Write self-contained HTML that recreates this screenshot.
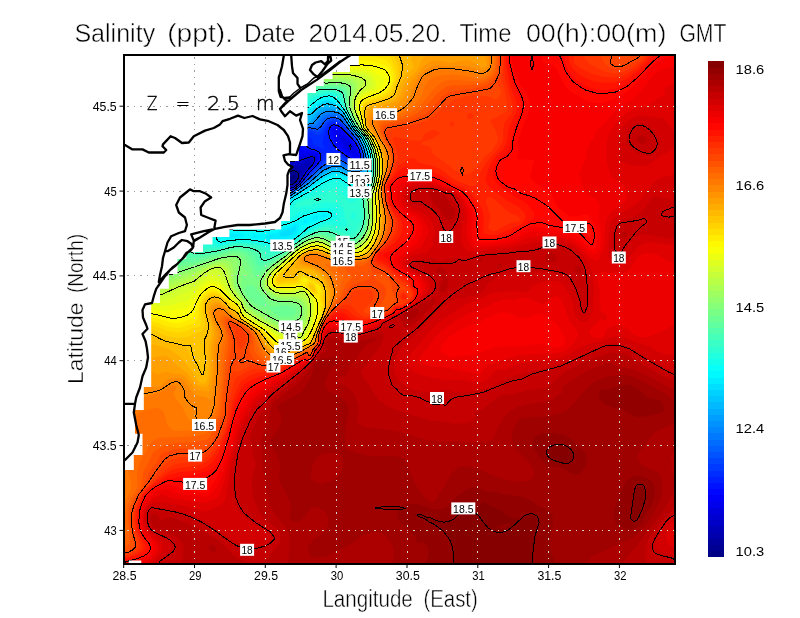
<!DOCTYPE html>
<html><head><meta charset="utf-8"><title>Salinity</title>
<style>html,body{margin:0;padding:0;background:#fff}svg{display:block}text{font-family:"Liberation Sans",sans-serif;fill:#000}</style></head><body>
<svg width="800" height="618" viewBox="0 0 800 618">
<rect width="800" height="618" fill="#fff"/>
<defs><clipPath id="ax"><rect x="124" y="55" width="551" height="509"/></clipPath></defs>
<g clip-path="url(#ax)" shape-rendering="geometricPrecision">
<rect x="124" y="55" width="551" height="509" fill="#000080"/>
<path fill="#000093" d="M120 51l559 0 0 517-559 0 0-516zM293 174.8l-3.9 2.2-1 2 0.9 2.3 2 0.9 2.4-1.2 2.2-3 0.2-2-0.8-1.1-1-0.2z"/>
<path fill="#00009f" d="M120 51l559 0 0 517-559 0 0-516zM291 170.9l-3.1 1.1-2.4 2-1.1 2-0.5 3 0.7 2 1.8 2 2.6 1.5 2 0.1 3-1.3 2.6-2.3 1.4-2.1 1.1-3.9-0.8-2-2.3-1.9-4-0.4z"/>
<path fill="#0000ac" d="M120 51l559 0 0 517-559 0 0-516zM289 168.9l-3.7 1.1-2.3 1.4-2 2.6-0.2 2 0.5 4 1.3 2 3.9 3 3.5 0.9 3.1-0.9 4-3 2.9-4.8 0.8-3.2-0.8-2-3.9-3-2.1-0.4-4 0.2z"/>
<path fill="#0000b9" d="M120 51l559 0 0 517-559 0 0-516zM288 167l-5 0.5-3 1.3-2.4 2.2-0.8 3 3.2 8 5 3.5 4 1.2 4-0.9 4.1-2.8 2.9-4 2.4-6-0.4-2.1-5-3.5-3-0.5-5 0.1z"/>
<path fill="#0000c6" d="M120 51l559 0 0 517-559 0 0-516zM309 161l-9 4.5-11-0.4-10-1.3-3 1.1-3 2.6-1.4 2.5 0.1 2 5.7 10 6 4 4.6 1.4 3-0.2 2.9-1.2 4.9-4 6.4-12 5.2-6 0.5-2-1-1z"/>
<path fill="#0000d2" d="M120 51l559 0 0 517-559 0 0-516zM269 156.6l-2.7 2.4-0.4 4-1.9 3.1 0.1 1.9 11.9 15.3 8 4.1 3 0.7 3-0.1 5-2.1 4.4-3.9 6.7-11 6.1-7 1.2-3-0.3-2-1.1-0.6-3 0.1-10 4.3-8 0.5-3-0.7-11-5.3-7-1z"/>
<path fill="#0000df" d="M120 51l559 0 0 517-559 0 0-516zM256 152l-1.6 1-0.5 2-2.2 4 1 2 7.5 9 9.8 9.4 4 4.8 8.7 3.8 6.3 0.7 6-2.3 4.9-4.4 6.5-10 7.6-9 1.3-4-0.7-2-1.6-0.8-3 0.2-11 3.6-7 0.6-2-0.5-11-5.6-7-2.4-7-1-8 0.8zM350 145.9l-0.8 1.1 0.8 1 1.1 0 0-1-1-1z"/>
<path fill="#0000ec" d="M120 51l559 0 0 517-559 0 0-516zM227 144.9l-0.7 0.1 0.3 1 1.8 2 12.6 10 6.6 7 9.8 7 9.6 7.8 3.9 5.2 7.7 3 7.4 1.4 3-0.1 4-1.4 3.3-1.9 3.3-3 7.6-11 7.8-9 1.4-3 0.3-2-0.7-1.9-1-1-4-0.5-13 2.4-5 0-4-1.2-10-4.4-8-1.9-15-0.2-28-4.4zM339 133.9l0 1.8 7.1 12.3 3.9 3.6 4 1.6 1.2-0.2 0.4-2-2.2-5-2.4-2.5-8.6-6.5-2.4-3z"/>
<path fill="#0000f9" d="M120 51l559 0 0 517-559 0 0-516zM223 142.4l-0.1 1.6 1.1 1.7 6.7 8.3 5.4 8 3.9 3.1 8.7 4.9 15.3 10.4 1.6 1.6 1.2 3 0.9 1 11.3 3.4 6 0.7 4-0.2 5-2 5-3.7 9-12.2 6.6-7 2-3 1.2-3-0.4-3-1.4-1.8-3-1-18-0.3-15-3.6-11-1.5-14-0.3-20-2.9-11-2.4zM336 129.7l-1 0.4-0.5 0.9 0.5 4 6.9 11 7.1 7.2 3.2 1.8 3.8 1.2 1.2-0.2 0.8-1 0-2-1-3.1-2.8-4.9-12.9-13-4.3-2.2z"/>
<path fill="#0006ff" d="M120 51l559 0 0 517-559 0 0-516zM222 141.1l-0.8 0.9 0.8 2.2 11 16 3 3.6 7.8 7.2 17.3 11 1 1 2.1 4 3.8 1.5 6.8 1.5 12.2 0.7 5-1.4 6.6-4.3 10.4-13.2 6.5-6.8 3.3-6-0.1-3-1.7-2.7-3-1.3-16-2.9-29-2.5-13-0.2-21-2.8-12-2.6zM334 127.5l-1 0.7-0.9 1.8 0.1 4 2.3 5 4.7 7 9.6 9 6.2 2.8 3 0.2 1-0.9 0.3-1.1-0.1-3-1.2-3.3-3-5.4-13-13.5-4-2.6-3-0.9z"/>
<path fill="#0013ff" d="M120 51l559 0 0 517-559 0 0-516zM221 140.3l-0.8 0.7 0 1 0.9 2 12.9 18.8 8 8.9 15 12.3 2.5 4 3.5 1.5 9 1.6 8 0.5 7-0.3 6-2.1 6.1-4.2 10.5-13 7.6-8 2-3 1-3-0.4-3-1.8-2.7-2-1.2-6-1.2-5-2.6-3-0.7-16 0.2-17-1.5-8 0.5-19-1.9-20-3.7zM333 125.9l-1.5 1.1-1.2 2-0.5 4 1.5 5 4.2 7 3.7 4 8.8 7.2 6 2.7 4 0.7 2-1.6 0.2-4-1.2-4-3.2-6-4.8-5.7-9-9.1-5-3.1-3-0.4z"/>
<path fill="#0020ff" d="M120 51l559 0 0 517-559 0 0-516zM220 139.6l-0.8 1.4 0.7 2 12.6 19 8.5 10.2 16.3 16.8 3.7 2.2 6 1.2 11 0.2 10-0.9 6-2.6 5.6-4.1 10.9-13 8.6-9 2-3 0.7-3-0.4-3-2.4-3-3-1.7-5-1.1-5-3.7-4-1.2-8 0.7-5-0.5-4 0.4-5-1.6-11-1.6-6-0.3-2.3 0.6 0.7 1 2.1 1 0.2 1-6.7 0.3-15-1.2-21-3.7zM332 124.5l-1.9 1.5-1.3 2-1.1 3-0.3 3 1.9 7 3.7 5.8 3.3 3.2 11.7 7.9 7 2.7 4 0 1-0.7 1-1.9-0.1-4-1.9-5.6-4-6.9-13-13.8-5-3.1-4-0.4z"/>
<path fill="#002dff" d="M120 51l559 0 0 517-559 0 0-516zM332 122.8l-2 0.9-2 2.1-2.8 6.2-2.7 10 0.5 3 2 4-1 0.3-6-3.2-4-1.2-0.8-0.9-0.9-4-1.6-2-1.7-0.8-15 2.6-10 0.3-36-2.1-1.5 1 3.1 3-5.6 0.3-8-0.9-15-2.8-1.9 0.4-0.8 1 1.4 4 13.3 19.8 8 9.7 15.7 16.5 5.3 3.2 4 1 10-0.3 11-1.4 3-0.9 4-2.1 7.1-5.5 10.3-12 10.8-11 4.8-9.8 5 2.3 5 0.2 3 0.9 9 5.4 5 1.8 4 0.4 2-0.9 1-1.2 0.8-3.1-0.8-5-3-7-3-4.8-14-14.9-4-2.2-4-0.5z"/>
<path fill="#0039ff" d="M120 51l559 0 0 517-559 0 0-516zM334 121l-3 0.4-3 1.8-2 2.5-4 7.3-3 2.2-3-0.4-4-2.9-2-0.4-8 4.2-11 2.3-8 0.5-9-0.3-15-0.8-12-1.4-9.2 1-0.9 1 1.7 2-0.6 0.1-17-2.3-3 0.8-0.5 2.4 2.1 4 11.2 17 9.2 11.7 14.9 16.3 7.1 4.6 5 1.2 8-0.6 11-1.9 4-1.1 4-2.3 6.6-4.9 12.9-14 12.5-11.5 3-1.9 6-1.3 4 0 3 1.1 8 4.6 5 1.4 4-0.3 2-1.5 1.4-3.6-0.6-5-1.8-5.1-4-7.5-14-15.8-4-2.7-3.9-0.9z"/>
<path fill="#0046ff" d="M120 51l559 0 0 517-559 0 0-516zM331 119.8l-4.1 2.2-5.9 8.5-3 1.7-8-2.9-2 0.5-4 2.8-3 1.3-12 2.7-7 0.3-13-0.5-29-2.8-6 2.2-4 0.1-4 1.2-6-0.3-2 0.5-1 0.8-0.7 1.9 1.1 3 10.1 16 8 11 15 18 5.2 4 7.3 4.2 5 1 6-0.5 14-3.3 7-3.7 6.1-4.7 12.9-13.2 7-6.1 6-4.4 4-1.9 5-1.2 4 0.1 3 1.1 6 3.7 5 1.6 4-0.2 3-1.5 1.8-4-0.3-5-2.3-7-4.2-7.8-15-16.9-4-2.2-5-0.5z"/>
<path fill="#0053ff" d="M120 51l559 0 0 517-559 0 0-516zM329 118.8l-4 2.8-4 6-2 1.8-3 0.3-7-1.7-8 4.1-11 2.6-7 0.5-12-0.8-36-4.7-2 0.3-3 2.8-4 1.8-8 1-2.2 2.4-0.9 2 0.3 2 5.1 10 13.2 18 9.4 11 3.3 5 4 4 3.8 2.7 7 3.7 6 1.9 7-0.4 14-3.9 4-1.9 7-4.8 21-19.5 4-3 6-3.2 5-1.6 5-0.2 3 1 6 3.7 6 1.5 5-1 2.1-2 1.4-5-0.7-5-2.5-7-4.3-7.8-15-17.3-5-2.5-3-0.3-3 0.4z"/>
<path fill="#0060ff" d="M120 51l559 0 0 517-559 0 0-516zM331 116.9l-3 0.7-3 1.9-2 2-3 4.7-2.4 1.8-2.6 0.3-6-1.3-9 3.8-14 2-16-1.2-32-5.2-16 0.9-4 1.7-0.4 1 1.3 2-2.9 1.1-0.9 3.9-1.1 1.4-4 1.6-0.3 1 0.7 2 6.9 10 23.3 28 4.3 6 4.4 4 5.9 4 8.8 3.7 7 0.8 6-1.3 11-3.7 4-1.9 7-4.9 9.4-7.7 12.6-11.9 4-2.7 6-2.9 4-1.1 5-0.2 3 1 6 3.7 5 1.2 5-0.6 3-1.8 1.8-4.7-0.1-5-2-7-4.5-9-16.2-19.4-4-2.2-5-0.6z"/>
<path fill="#006cff" d="M120 51l559 0 0 517-559 0 0-516zM329 115.9l-3 1-2.9 2.1-4.1 6-2 1.7-2 0.5-7-0.8-8 2.9-6 0.7-15-0.1-19-2.8-15-3.1-10-1-14-2.4-13-1-2.2 0.4-0.4 1 0.3 1 7.9 10 0.7 3-0.3 1.7-1 0.9-2 0.2-6-0.7-1.8 0.9 4.8 8 30.2 35 2.4 4 6.9 6 6.5 4.7 7 3.2 7 1.7 5-0.2 5-1.4 14-5.9 17-12.8 13-12 9-4.6 5-1.3 4 0.1 3 1.1 5.7 3.4 6.3 1.2 5-0.9 2.9-2.3 1.6-6-0.5-5-2.2-7-4.6-9-7.9-9-5.3-7.4-3-3.3-5-2.4-6-0.2z"/>
<path fill="#0079ff" d="M120 51l559 0 0 517-559 0 0-516zM196 111l-0.6 1 0.7 1 14.6 17 2.1 3 0.6 2-0.4 1.2-2 0.7-11-2.1-2.4 0.2 0 1 23.2 30 9.6 11 2.3 4 4.4 4 17.2 12 6.7 3.1 8 1.7 4-0.2 4-1.2 14-6.2 18.2-13.2 12.8-11.8 8-4.1 5-1.4 5 0 8 4.2 7 1.4 4-0.6 4-2.2 1.5-3.5 0.6-5-0.9-5-1.9-6-4.5-9-7.8-9-7-9.9-3-2.7-3-1.4-4-0.7-5 0.3-5 2.4-2.8 3-3.2 4.9-1.7 1.1-7.3-0.3-9 2.4-6 0.4-15-1.5-31-5.9-10-1-40-9z"/>
<path fill="#0086ff" d="M120 51l559 0 0 517-559 0 0-516zM190 106.7l-0.5 0.3 0.1 1 1.3 2 5.1 4.8 13 14.2 3.2 5-0.2 1.6-1 0.4-14-2.7-4-0.1-1.1 0.8 8.4 13 2.2 5 5.8 8 16.1 16 13.4 11 15.2 10.2 5.2 2.8 6.8 2.3 7 0.5 6-1.6 14-7.1 17-12.2 13-11.7 7-3.7 5-1.6 5-0.1 3 0.9 6 3.4 8 1.3 4-0.9 3.8-2.5 1.2-3 0.6-6-0.9-5-1.9-6-4.5-9-7.7-9-7.6-11.1-3-2.7-3-1.4-5-0.8-5 0.4-3 1-2.3 1.6-6.1 8-1.6 1-6 0.1-15 2.1-24-4.7-15-3.9-16-2.1-30-7.5-11.5-2-5.5-0.4z"/>
<path fill="#0093ff" d="M120 51l559 0 0 517-559 0 0-516zM187 104.1l-0.4 0.9 0.3 1 2.1 3 7 6.8 12.2 13.2 2.6 4 0.2 1.6-1 0.6-2-0.2-15-3.3-16-5.9-12.5-2.8-0.6 1 0.1 1 4.5 9 6.4 9 6.1 6 20 11.5 18 12.9 16.1 12.6 17.9 12 9 4.5 5 1.2 5 0.2 6-1.6 14-7.6 17.9-12.7 12.1-10.9 7-3.7 5-1.4 5-0.1 3 1 6 3.3 8 1.2 4-0.7 4-2.4 1.5-3.3 0.6-6-0.6-5-2.2-7-4.4-9-7.8-9-8.1-12.3-3-2.6-4-1.8-5-0.6-5 0.3-2.7 1-2.3 1.5-7.1 8.5-1.7 1-20.2 1.7-6-1.3-11-3.4-23-5.5-28-4.8-15-3.9-21-2.8z"/>
<path fill="#009fff" d="M120 51l559 0 0 517-559 0 0-516zM182 98.7l-0.6 0.3 0.6 2 6 7.8 7.5 7.2 12.8 14 1.6 3-0.3 1-0.6 0.2-15-3-18.4-7.2-13.6-4-5-0.2-27-14.8-1-0.4-0.5 0.4 1.5 2 9.6 10 8.4 7 5 3.2 6.9 6.8 12.1 8.1 8.8 7.9 20.2 11.6 42.9 31.4 9.6 6 7.5 4 9 1.9 4-0.2 4-1.2 14-8.3 18-12.5 12.1-10.7 6.9-3.6 5-1.4 4-0.1 3 0.7 7 3.7 9 1.2 4-0.9 3.7-2.6 1.3-3 0.6-7-0.7-5-2.1-7-4.4-9-7.7-9-8.7-13.3-3-2.7-4-1.9-5-0.8-5 0.2-3 0.9-3 2.1-7.2 8.5-1.8 1.3-3 0.6-7-0.6-11 0.8-5-1.2-17-6-34-7-10-1.5-41-9.7z"/>
<path fill="#00acff" d="M120 51l559 0 0 517-559 0 0-467.4 4 1.9 14.1 14.5 22 19 11.9 7.2 8 7 21 12.2 25 17.7 18.4 13.9 14.6 8.9 6 2.1 8 0.9 4-0.8 3-1.5 30-20.2 13-11 7-3.4 4-1 4 0 3 0.8 8 3.8 8 1.1 4-0.8 3-1.7 2-2.4 0.7-2.8 0.5-6-0.6-5-1.6-6-5.1-11-7.7-9-9.2-14.3-4-3.5-5-1.9-7-0.5-5 1.5-4 3.1-6.8 8.6-2 1-2.9 0-5.3-1.4-14 0.5-6-1.8-14-5.5-16-2.8-8.1-2-76.9-23.6-0.3 0.6 1.7 2 11.6 10.7 11 12 9.5 9.3 8.1 9 1.1 2-0.1 1-2.6 0.3-12-2.7-17-6.8-12-3.6-8-2.9-14.8-8.3-10.2-4.4-12-7.8 0-44.8z"/>
<path fill="#00b9ff" d="M120 51l559 0 0 517-559 0 0-466.6 4 2 14 14.3 20.8 18.3 13.2 7.9 8.4 7.1 19.6 11.3 26 18.3 18 13.8 15 9.2 6 2.2 8 1 4-0.6 2.7-1.2 8-6 22.3-14.8 13-10.8 7.2-3.4 3.8-0.9 3-0.1 4 1 6 3 3 0.9 8 0.9 4-0.9 3-2 1.4-1.9 0.9-3 0.4-6-0.4-5-1.5-6-5.4-12-7.7-9-9.7-15.3-5-4.1-5-2-7-0.4-5 2-4 3.2-6.8 8.6-1.2 0.9-1.2 0.1-1.6-1-0.1-1 1.9-1 0.5-1-0.5-0.4-1-0.1-3 1.8-16 0.8-4-0.4-20-7.3-15.7-3.4-9.3-3-60.8-24-26.2-9.9-5-1.3 1 2.2 4.1 4 7.9 6.4 3.9 4.6 9.1 7.1 10 9.4 7 7.8 8.9 8.7 8.5 10 0.2 1-1.6 0.6-11-2.3-18.5-7.3-11.5-3.4-8-3.2-15.1-8.4-9.9-4.2-12-7.8 0-44z"/>
<path fill="#00c6ff" d="M120 51l559 0 0 517-559 0 0-466 2 0.6 2 1.5 13.6 13.9 20.4 18.1 14 8.4 8 6.7 20 11.6 26 18.3 18 13.8 15 9.4 7 2.5 8 0.8 6-1.5 8.8-7.1 22.2-14.8 12-9.6 8-3.8 4-0.7 3 0.2 12 4.7 8 1.1 4-0.6 3-2 2-2.5 0.9-4 0.3-6-0.6-6-1.6-6-5-10.8-7.9-9.2-10.1-16.1-4-3.7-4-2.3-6-1.4-5 0.5-6 3.6-5 5.5-2 1.3-4-0.8-5 1.6-5 0.4-17-0.7-8-2.5-15-6.5-30.5-9.9-18.6-7-48.7-21-16.3-6-7-2-2.2 0 0.6 1 17.3 15 8.4 6.5 4 4.5 8 6 6 5.5 16.6 16.5 11.2 13 0.4 1-1.2 0.5-10-1.8-18-7-12-3.6-8-3.4-14-7.8-11-4.7-10-7-2-0.8 0-43.4z"/>
<path fill="#00d2ff" d="M120 51l559 0 0 517-559 0 0-465.5 4 2.2 13 13.3 21 18.7 14 8.3 7 6 5 3.3 16 9 26 18.3 18 13.8 15 9.5 8 3 7 0.7 4-0.7 3-1.2 8.8-7.7 20.2-13.2 13-10 8-3.8 4-0.8 3 0.3 4 1.1 8 3.6 8 1.4 4-0.4 3-1.9 2.6-3.3 0.8-3 0.3-7-0.5-6-1.1-5-5.1-12-8.4-10-10.6-17-4-3.9-4-2.5-6-1.7-5 0.4-5 2.9-7 6.5-2 0.7-12 1.1-18-0.6-5-0.7-30-12.9-10.8-5.3-22.1-9-27.1-9.3-16.9-6.7-38.1-13-1.2 0-0.1 1 2.3 3 28.7 23 3.6 4 8.7 6.6 11 10.2 11.8 12.2 9 11 0.3 1-1.1 0.3-8-1.3-17-6.5-13-4-7-3-15.8-8.5-9.2-3.8-11-7.6-2-0.7 0-42.9z"/>
<path fill="#00dfff" d="M121.1 51l557.9 0 0 517-559 0 0-465.1 3.7 2.1 13.3 13.6 21 18.6 14 8.3 7 6 4 2.7 17 9.7 14 10.2 11.9 7.9 18.1 13.9 15 9.7 8 3.2 4 0.7 4 0 4-0.8 3-1.3 8.8-8.4 19.2-12.4 13.1-9.6 8.7-4 3.2-0.6 3 0.2 4 1.2 5 2.6 4 1.4 8 1.5 4-0.6 3-2.4 2.1-3.3 0.9-3.4 0.3-6.6-0.4-6-1.3-6-5.1-12-8.5-10.1-11-17.7-5-4.9-4-2.5-6-1.5-5 0.8-6 3.9-6 5.4-2 0.7-9 0.6-21-1-5.8-0.7-27.2-11.8-10-5.3-26.1-11.9-12.9-5-11.1-3-16.9-6.3-14.1-3.7-16.3-6-16.6-7.2zM120 54l0-0.8 1 0.2 2 1.2 6.9 7.4 29.1 23 4 4.3 9 6.9 11 10.2 10.9 11.6 4.1 5 2.1 5-4.1 0.2-5-1.2-14-5.4-12-3.6-8-3.5-14-7.6-10-4.2-11-7.6-2-0.7 0-39.4z"/>
<path fill="#00ecff" d="M148.3 51l530.7 0 0 517-559 0 0-464.6 3.1 1.6 13.9 14.1 20 18 15 8.9 6 5.3 5 3.4 16.4 9.3 14.6 10.7 11.3 7.3 18.7 14.5 16 10.3 8 3.2 7 0.5 7-1.8 3-2.2 4.4-5.5 2.4-2 18.2-11.4 14-9.8 8-3.6 4-0.6 3 0.4 13 5.6 7 1.8 4-0.2 3-2.2 2-3.3 1.3-3.7 0.5-4-0.1-8-0.9-6-2.1-7-3.8-8-8.9-10.7-11-17.9-5-5.2-4-2.8-5-1.7-3 0-3 0.8-6 3.8-6.3 5.7-3.7 1.2-6-0.1-14-1.3-18.2-2.8-5.8-1.9-16.8-7.1-9.2-5-17.1-8-22.9-9.9-32.5-13.1-3.3-2-2.3-3-9.9-6zM270 236l-0.5 1 1.5 0.6 1-0.6-1-1.1zM294 226.9l-3 2.7-8 0.9-2.7 2.5-0.3 2.5 2 1.3 4-0.3 4.4-1.5 2.6-2 2-2.7 1.2-3.3-1.2-0.7zM120 55l0-0.5 1 0.3 3 1.8 5.1 5.4 29.9 23.5 4 4.3 9 6.9 11 10.4 9.6 10.9 1.4 2 0.5 2-0.8 3-0.7 0.8-1.1 0.2-25.9-8.2-9-3.9-14-7.5-10-4.2-10.4-7.2-2.6-1.1 0-37.9z"/>
<path fill="#00f9ff" d="M156.3 51l522.7 0 0 517-559 0 0-464.2 3 1.6 14 14.3 20 18 14.2 8.3 11.8 9.4 16.9 9.6 13.1 9.7 12 7.7 18 14 15 9.9 6 3.3 5 1.7 3 0.5 4-0.1 4-0.9 3-1.3 3-2.3 3.5-5.2 3.5-3 17-10.3 14-9.5 9-3.8 4-0.5 4 1 16.3 8.1 3.7 3.7 2 0.5 2-1.3 1.7-2.9 3.5-14 0.1-9-1-7-2.1-7-3.2-7-2.7-4-7.1-8-11.2-18.4-5-5.6-5-3.7-5-1.4-5 1-6 3.7-7 6.3-4 1.1-17-2.5-28-6.4-15.3-5.1-19.7-9.6-21-8.7-37-19.2-9-5.3-2.4-2.2zM230 234l-1.3 1-0.2 1 0.7 1 1.8 0.7 5-0.8 5 0.1 1-1-0.2-1-0.8-0.5-10-0.8zM254 235l-1.2 1 0.2 1 1.4 1 1.6 0.1 1.7-1.1-0.1-1-2.6-1.2zM296 223.9l-2 0.6-5 2.9-7 1.5-6 4.5-6 0.2-3 1.2-1 1.2 0.1 2 1.9 1.5 3 0.7 13-0.8 6-1.2 2.7-1.2 3.3-2.7 1.5-2.3 1-6-0.5-1.4-1-0.6zM305 219.9l-1.7 1.1-0.3 1 0.8 1 1.2 0.2 2-1 0.6-1.2-1.6-1.2zM315 215.8l-2.2 1.2-0.7 2 1.3 1 1.6 0.1 2.5-1.1 1.3-2-1.2-1-1.6-0.3zM323 214.5l-1.6 1.5 0.6 1 3 0.3 1.5-1.3-0.1-1-2.4-0.9zM120 56l0-0.8 1 0.3 3 1.9 4.5 4.6 30.5 24 3.6 4 9.1 7 11.3 10.9 5.3 8.1-0.6 1-3.9 1-0.8 1 0.2 2-1.2 0.3-6.5-1.3-9.5-2.8-9-3.9-14-7.4-9.3-3.9-10.7-7.3-3-1.3 0-36.4z"/>
<path fill="#06fff9" d="M157.6 51l521.4 0 0 517-559 0 0-463.7 3 1.7 13.6 14 20.4 18.5 13.2 7.5 12.8 10.3 14 7.7 16 11.7 12 7.3 17 13.3 17 11.4 5 2.8 5 2 4 0.8 4-0.2 3-0.6 4-1.8 3-2.6 3.7-6.1 2.2-2 18.1-10.6 13-8.6 10-4.1 4-0.2 3 1 11 6.5 6.9 6 2.1 0.7 2-0.3 3-2.4 2-3.7 2.8-14.3 0-9-1-7-1.8-6.1-3.6-7.9-2.6-4-7.2-8-8.6-14.8-4-5.8-4-4.8-5-4.1-5-1.3-6 1.5-6.7 4.3-6.3 5.8-2 0.7-4.8-0.5-12.3-3-48.9-15.3-28.2-9.7-7.1-3-37.7-19.9-8-4.5-2-1.8zM322 212.8l-8 1.5-5 2.8-5 1.1-5 3.4-4 0.9-6 2.8-7 1.7-7 4.2-7 1-5 1.7-2 0.1-7-1.2-7 2-5-2.2-11-0.8-6 0.5-3 1.2-0.9 2.5 1.2 2 6.7 1.1 12-0.5 6-2.6 1 0.1 2.6 1.9 3.4 1.5 8-0.1 8 2.5 10 0.3 8-1.4 5-1.9 6-4.9 1.3-2 0.3-5 1.4-1.5 4-0.5 5-2.5 5-0.7 5-2.2 6.3-1.6 1.6-2-0.6-2-2.3-1.4-3 0zM120 56l3 1.2 6 5.8 29.4 23 3.6 4 10 7.9 9.1 9.1 1.7 3-0.8 1.6-4.4 2.4-0.5 1 0.6 3-0.7 0.8-5.1-0.8-6.6-2-7.2-3-15.1-7.6-8.1-3.4-11.9-7.9-3-1.1 0-36z"/>
<path fill="#13ffec" d="M158.7 51l520.3 0 0 517-559 0 0-463.1 3 1.9 13 13.5 20 18.5 16.1 9.2 13.9 12.7 9.6 5.3 8.7 7 2.3 3 3.2 9 4.6 8 2.6 6.6 2 2.3 1 0 1-0.7 0.3-2.2-3.3-11.5-2.6-6.5-0.1-1 1.7-0.2 8 4.1 17 13.3 22 14.5 4 1.9 5 1.3 3 0.3 4-0.5 3-1 4-2.8 2-2.9 2.3-5 2.7-2.6 16-8.8 13.5-8.6 9.5-4.1 4-0.7 3 0.7 8.8 6.1 8 7 3.2 0.6 3-0.7 3-2.3 2.6-4.6 1.4-5 1.3-9-0.1-10-1-7-2.1-7-3.2-7-2.7-4-7.2-8-14-23.2-4-4.9-3.4-2.9-2.6-1-3-0.4-5 1-7.7 4.4-7.3 6.2-2 0.5-3-0.5-20-6.3-19.4-6.9-33.6-10-16.3-4-7.2-3-38.5-19.9-7.3-4.1-1.7-1.6zM208 201.6l0 1.4 3.3 6-0.6 4 2 6 0.4 9 1.1 7 2.3 5 2 2 1.5 0.6 9-1.9 18-1.3 27 4.8 5 0.3 4-0.7 9-2.8 17-12.9 12-6.2 8.2-2.9 2.6-2 0.7-2-1.2-2-3.3-1.7-4-0.6-5 0.6-16 4.2-7 4.5-7 3-8 2.1-8 4.1-12 1.4-11-0.9-15 0.3-5-1-2.8-2-10.9-14-3.3-6.4-4-4.7zM120 57l0-0.7 3 1.5 5.4 5.2 29.6 23.3 4 4.3 9.3 7.4 6.7 8-0.3 1-5.7 0.2-4 2.4-4-0.1-1 0.5 1 2.2-1 0.5-3.3-0.7-8.6-3-8.1-4.3-8.8-3.7-11.2-7.6-3-1.1 0-34.3z"/>
<path fill="#20ffdf" d="M160 51l519 0 0 517-559 0 0-462.3 3 2.1 16.6 17.2 7.6 9 24.1 45 0.8 2-1.1-0.1-13-14-2-1.2 0 1.3 14 27 14.3 24 11 13 0.2 1-0.5 0.2-7-0.3-1.1 0.1-0.7 1 2 2 6.2 3 2.6 0.2 3-0.9 2 0 5 2.5 4 1.1 7 3.7 3 0.2 7-2.3 7-1.2 10-0.2 12 1.5 16 3.8 4 0.4 5-0.7 9-3.3 11-7.5 11-6.7 11-5.6 11-3.2 1.8-1.8 0.7-2-0.1-2-0.9-2-2.5-2.2-5-1.5-8-0.2-18 3.1-4.4 1.8-7.6 4.8-3.3 0.2-0.5-1 2.8-4.7 2-7.4 2-2.9 17-8.6 12-7.4 8.9-4 3.1-0.8 3 0.1 3 1.5 10 9.8 3 2.1 3 0.4 5-1.5 4-2.7 3-4.9 1.9-7 1-8-0.2-10-1-7-1.7-6-3.7-8-2.6-4-7.7-8.6-16-27.2-2.7-3.2-2.3-1.6-5-1.3-6 0.8-6 2.8-10 6.9-4 0-24.8-8.6-53.2-15.5-18-6.2-39-18.3-7-3.9-1-1.1zM120 57l3 1.4 5 4.8 13 9.8 9 7.8 8 6 3.7 4.2 8.6 7 1.5 3-0.8 0.8-1 0-8-1.9-5 0.6-11-3.4-0.5 0.9 0.9 2 4.8 6 0.3 1-1.5 0.2-15.9-7.2-11.1-7.5-3-1 0-33.5zM161.7 145l2.3-0.1 6.1 3.1 3.7 3 3.7 4 8.5 19 4.3 13 0.4 3-0.7 0.6-3-0.8-0.6 1.2 4.2 13-0.3 2-1.3-0.8-9-14.2-1.2-11-3-7-13.9-27zM225.5 188l0.5-0.7 2 0.8 18 14.6 6 2.3 12 8.6 10.1 4.4 3.5 2 0.3 1-1.9 1.9-2 1-6 1-4-0.5-5-2.5-4 0.3-7-3.8-9 2.6-1-0.4-1-1.4-2.3-7.2-4.7-10.3-4.3-12.7z"/>
<path fill="#2dffd2" d="M162 51l517 0 0 517-559 0 0-392 1 0.3 1.7 1.7 8.3 11.1 27.4 33.9 4.6 4 6 4.2 19 10.4 5 1.9 5 1.2 20 1.9 3-0.3 8-2.5 7-1.2 12 0.3 9 1.4 15 5 3 0.4 5-1 9-3.6 4-2.3 8-5.7 10-5.8 13-5.7 3-0.7 4-0.1 11 2.1 4.2-0.9 0.8-1 0.2-2-2.6-6-1.3-8-2.3-2.9-3-1.8-5-1.6-7-1-6 1.7-5 0-5 2.5-7 0-6 1.8-1.7-0.7-0.1-2 2.2-2 20.6-8.4 7-1.6 5.8-4 3.2-1.2 2.8 1.2 2.5 3 5.7 4.7 4 4.9 2 1.2 2-0.4 5.7-5.4 6.3-4.1 3-3.7 2-4.2 1-3.6 1.3-9.4 0-10-0.9-7-2-7-2.4-5.5-3.1-5.5-8.9-10.2-4.6-7.8-10.4-20-2-2.8-2-1.6-5-1.7-6 0-6.9 2.1-12.1 6.1-3 0.4-3-0.5-14-5.2-31.2-8.8-47.7-16-13.6-5-9.1-4-15.6-7-6.8-4zM353 212.5l-1.8 1.5-0.5 2 0.3 2.3 1 1 1 0.2 2-1.3 0.7-2.2-0.1-2-0.6-1.2-1-0.5zM120 58l0-0.7 3 1.6 5 4.9 12.2 9.2 9.8 8.5 7.3 5.5 10.7 11-2 0.2-16-3.4-10-4.1-1 0.2-0.1 1.1 4.3 8 0.3 1-0.5 1-7.6-3-12.4-8.4-3-0.7 0-30.9zM120 153l0-0.9 1 0.4 2 1.8 18.3 20.7 4.8 6 3.8 6 9.1 11 2.4 4 0.5 2-1.9 0.1-6.9-2.1-6.1-3.2-6.1-5.8-3.8-5-7.3-7-9.8-7.6 0-19.4z"/>
<path fill="#39ffc6" d="M175.2 51l503.8 0 0 517-559 0 0-374.1 4 1.8 8 6 26.8 25.3 21.2 15 10 5 4 1.1 4 0.5 20-0.3 14-3.7 10-0.6 9.4 1 6.6 1.5 6.3 2.5 4.7 3.7 3 0.6 4-0.9 7-2.9 9-5 10-7 9-4.9 5-2.4 7-2.1 4-0.6 5 0.6 8.7 3.9 9.1 2 2.2-0.1 1.7-0.9 4.3-5.7 3.1-8.3 0-7-1.5-9 0.4-4 1.2-2 5.6-5 2.2-3.4 2-5.1 1.4-7.5 0.5-7-0.3-9-1.2-7-2.3-7-4-8-9.1-10.4-4.1-6.6-6.7-13-4.4-11-2.8-3.4-5-1.9-7-0.4-7 1.4-9 3.5-4 1-5 0.7-4-0.4-28-9.5-18.8-7-61.2-23.5-13-5.6zM120 58l2.2 1 4.8 4.6 13.5 10.4 8.5 7.6 7 5.4 5.6 7-2.6 0.3-5-1.6-5-0.9-12-4.9-2-0.4-1.2 0.5-0.3 1 1 4-0.5 0.5-11.1-6.5-2.9-1.1 0-25.9z"/>
<path fill="#46ffb9" d="M195.1 51l483.9 0 0 517-559 0 0-371.1 5 2.4 6 4.4 8.6 7.3 15.4 14.9 16 12.2 10 6.9 11 5.8 5 1.2 13-1.2 10-1.3 11-3.2 10-0.8 10 1.4 7.3 2.1 3.7 2.2 3 4.9 1 0.8 2 0.4 5-1.3 11-5 19-13.1 11-5.6 4-1.4 6-1 5 0.2 4 1.1 6 3.1 12 2.9 2 0 2-1 5.3-7.2 2.9-9 0.1-8-1.4-13 0.9-2 4.2-4.2 2.4-3.8 1.6-4 1.7-7 0.7-8-0.3-9-1.1-7-2-6.8-4.5-9.2-9.5-11-4.2-7-6-12-3.8-13-2-2.4-4-1.8-8-0.9-9.6 1.1-10.4 2.7-12 0.2-6-0.9-6.9-3-10.1-5.6-38.7-15.4-23.4-10-14.9-7.2zM120 59l0.9 0 1.4 1 4.7 4.6 12 9.4 11.1 11 0.5 1-1.6 0.6-6-0.3-11-3.2-3 1.3-2 0.2-7-2.3 0-22.3z"/>
<path fill="#53ffac" d="M215.3 51l463.7 0 0 517-559 0 0-369.5 6 3.2 9.2 7.3 18.8 18 20 16.7 6 4 12 5.9 4 1.2 4-0.1 19-3.4 12-3.5 10-0.5 8 1.3 6.4 2.4 3 3 1.3 5 1 2 1.3 0.8 2 0.1 5-1.6 15-7.7 19-13.8 9-4.4 5-1.9 5-0.7 5 0.4 4 1.1 6 2.9 15 3.1 2-0.3 1.7-1 4.3-5.2 3-5.8 1.9-10-1.6-18 0.8-2 3.9-4.6 2-3.6 3-9.8 0.8-9-0.2-8-0.9-7-2-7-4.7-10-9.5-11-4.8-8-5.2-11-2.9-14-1.6-2.3-5-2.3-8-0.8-24 2.1-22-6.1-16-7.3-51-25.7zM120 61l0.8 1-0.8 0zM120 68l2 0.9 3.2 3.1 2.3 5-0.2 3-1.3 1.3-6-1 0-11.3z"/>
<path fill="#60ff9f" d="M219.7 51l459.3 0 0 517-559 0 0-367.1 5.1 3.1 11.2 10 8.7 9.8 17.7 23.2 6 6 6.3 4 5 1.3 15-0.2 24-5.2 11-3.3 10-0.6 7 1.6 5 2.6 2.9 3.8 3.1 7.8 2 1.4 3-0.7 5-2.4 17-9.8 10-8.1 9-6 12-5.2 4-0.5 4 0.2 11 4.2 9 1 8 1.8 3-0.6 4-3.6 3.7-5.5 1.4-3 1.6-7 0.2-7-1.4-15 0.7-2 5.2-8 2.9-9 1-11-1-13-2.1-8-4.2-9-11-13.4-8-15.6-1.9-7-0.8-9-1.3-3-3-2-5-1.3-30 0.1-4-0.6-9-3.8-6-3.4-10-3.3-14-6.4-26-10.2-11-5-6-3.7zM120 75l0-0.7 2 1.6 0.6 2.1-2.6 0.4 0-2.4z"/>
<path fill="#6cff93" d="M223.2 51l455.8 0 0 517-559 0 0-340.9 3 1.6 12 11.1 11 8.2 15.1 10 9.9 4.8 8 1.2 8-1.8 7-0.3 7-2.6 28-7.7 4-0.7 5-0.1 5.5 1.2 4.9 3 2.8 4 4.8 10.1 2 2.2 2-0.7 25-16.3 10-8.3 9-6 10-4.3 4-0.8 4 0.2 4 1.2 7 3.2 10 0.8 9 1.6 3-0.5 3.3-2.4 3.3-4 2.9-5 1.5-5.3 1-7.7-1.4-18 0.6-2 4.8-8.1 2.7-8.9 1-10-0.7-12-2.1-9-3.9-9-2.7-4-8.5-10-3.8-6.6-4-8.6-1.9-6.8-0.4-11-1-3-2.7-2.1-5-1.5-16-0.1-18-1.6-5-1.1-5-1.8-6-3.5-23-10.5-28-9.8-13-6.3z"/>
<path fill="#79ff86" d="M252.4 51l426.6 0 0 517-559 0 0-335.1 9 8.4 9.1 9.7 8.9 7.9 6 3.6 11 4.4 7 1.3 8-0.8 8-2.2 8-1.4 8-3 26-7.4 4-0.7 4 0.1 4.7 1.2 3.5 3 2.7 6 2.8 4 2.5 7 1.3 2 1.5 1 3-1.3 6.4-6.7 20.6-14.5 10.1-8.5 10.9-6.7 8-2.9 4-0.3 5 1 9 4.1 6 0 15 1.6 3-1.4 4-3.7 3.6-5.7 1.7-4 1.6-11-1.3-18 5.2-11 2.3-8 1.1-10-0.6-11-2.2-10-4-9-1.8-3-9.6-11.7-4-7.1-3.6-8.2-1.7-8 0.6-10-0.7-3-2.6-2.3-6-1.8-16 0.1-10-1.9-11-1.3-7.3-1.8-9.7-4.9-16-9.7-6-5.3-8-5.6-2.3-2.5zM248 285.8l-1.6 1.2-0.9 2 0.5 4.3 2.4 3.7 6.6 6 5 2.6 9 2.7 6.5 5.7 3.5 2 6 1.1 7-0.7 2.5-1.4 1.4-2 0.2-3-1.1-2.1-4-1.7-9-0.9-4 0.2-6 1.6-3-0.4-2.4-2.7-2.7-6-4.8-5-5.1-6.7-2-1.1-3 0.3z"/>
<path fill="#86ff79" d="M255.3 51l423.7 0 0 517-559 0 0-320.4 3 1.4 31.1 20 4.9 2.1 8 1.8 3 0 6-1.6 45-14.1 11-2.3 4 0.1 3 0.8 1.8 1.2 1.4 2 1.2 9 1 2 2.6 2.1 1.2 2.9-0.2 1.4-1 0.5-3-3-1-0.1-1 1.2-0.7 3 0.3 11 1.4 4 3 5.1 4 4.7 3.6 3.2 19.1 11 7.3 3.3 9 0.9 7-2.2 2.7-2 1.6-5 0-3-0.6-2-1.7-2.1-3-1.3-21-1.9-3-0.9-3-2.4-7.4-9.4-1.5-3-0.7-3 0.8-3 6.4-9 6.4-5.5 14-10.2 11-9.2 11-6.4 7-2.3 4-0.2 5 1.1 8 4.1 7 0.1 15 1.4 3.7-1.9 4.3-3.9 3.2-5.1 1.8-4.1 1.8-10.9-1.3-19 4.8-11 2.2-8 1.1-10-0.6-11-2.2-10-4-9-1.8-3-8.3-10-4.7-8.2-4-9.3-1.3-7.5 1.4-11-0.1-2-0.9-2-2.9-2-4.2-1.2-5-0.6-13 0.5-12-3.4-14-2.7-6-1.8-6-2.6-15-9-7-6.2-8.1-6z"/>
<path fill="#93ff6c" d="M258.2 51l420.8 0 0 517-559 0 0-311.1 3 1 19 10 12 5.7 7 2.6 6 0.7 5-0.9 47-16.6 11-1.7 5 0.6 2.2 1.7 0.5 2-1.9 15 0.3 8 12.8 20 3.1 2.7 6.8 4.3 17.2 9.5 6 1.9 8 0.6 8-2.6 3-2.4 1.3-3 0.7-4.1 0.1-2.9-0.9-3-2.2-2.8-3-1.7-6-1-13-0.5-6-1.9-3-2.3-5.4-5.8-1.1-2-0.8-3 0.7-6 4.1-7 4.1-4 15.4-11.8 10.9-9.2 11.1-6.5 7-2.2 4-0.1 5 1.2 8 4.2 7 0 15 1.3 4-1.9 4.5-4 3.5-5.6 1.9-4.4 1.7-11-1.2-19 4.7-12 1.9-7.3 1-9.7-0.4-10-2.1-10-3.8-9-2.3-4-7.6-9-5.8-10.8-3.3-8.2-1.1-8 2.3-11-0.7-4-3.2-2.4-5-1.3-6-0.6-10 0.6-3.1-0.3-15.9-6.6-18.2-5.4-7.3-3-9.7-5-13.8-10z"/>
<path fill="#9fff60" d="M268.1 51l410.9 0 0 517-559 0 0-302.2 30 11.8 8 2.1 6 0.6 5-0.6 5-1.4 34-13.7 9-3.1 7-1.2 5.3 0.7 2.1 2 2 6 0.2 11 1 6 9.4 14 4 6.9 12 8.1 16 8.7 8 2.6 6 0.4 9-3 2-1.2 2-2.3 1.4-3.2 0.7-4 0.1-4-0.8-3-2.8-4-3.6-2.3-4-0.9-13-0.3-4-0.7-5-2.2-6-5.2-2.3-3.4-0.2-6 1.2-4 3.3-5 4-3.9 25-20.4 11-6.5 7-2 4 0 5 1.2 6.4 3.6 2.6 0.8 6-0.2 15 1.2 4-1.7 4.9-4.1 2.7-4 2.9-6 1.9-12-1.2-19 4.6-13 1.7-7 0.9-9-0.4-10-2.1-10-3.7-9-2.4-4-7.5-9-6.3-12.5-2.5-6.5-0.8-4 0-4 3.1-12-0.7-4-3.1-2.8-4-1.3-8-0.7-10 0.3-4-0.7-10.3-5.8-22.7-15.4-2.4-0.6-1.6 2.4-2 0.2-7.8-3.6-8.4-5z"/>
<path fill="#acff53" d="M292.5 51l386.5 0 0 517-559 0 0-296.5 3 1.2 6 3.5 10 3.8 14 3.5 9 0.6 7-1.3 14-5.1 8-3.2 21-10 8-2 5 0.3 3 2.2 2.9 5 1.4 12 1.3 5 9.8 14 1.8 5 1.4 2 11.4 7.7 17 9.5 10 3.8 6 0.6 9-3.6 4.4-4 1.6-3.3 1-4.7 0.1-5-0.8-3-3.1-5-4.2-2.9-4-1-13-0.1-4-0.6-5-2.2-6-4.8-1.4-1.4-0.8-2-0.2-5 0.8-3 3.1-5 3.5-3.7 25-20.8 11-6.5 6-1.8 4-0.3 5 1 7.5 4.1 2.5 0.8 6-0.2 16 1 4-2 5-4.4 5.1-9.2 2.1-13-1-20 4.4-13 1.5-7 0.8-8-0.4-9-1.3-8-2.7-8-3.5-7-8.2-10-6.6-14-1.8-5-0.7-4 0.1-4 3.8-12 0.3-3-0.6-2-2.3-2.8-4-1.8-6-0.6-13-0.1-6.1-1.7-8.6-6-20.3-16.5-2.1-2.5z"/>
<path fill="#b9ff46" d="M296.1 51l382.9 0 0 517-559 0 0-291.3 22 9.3 9 1.9 9 0.7 7-1.7 24-8.8 13-8.1 8-4 7-1.7 4 0.4 3 2.2 2.1 3.1 4.1 17 10 14 1.8 5.5 2 3 11.2 7.5 19.8 11 10 3.9 3 0.7 3-0.2 3-1.2 6-3.6 4-4.6 1.8-4 0.8-5 0.2-5-0.9-4-2.9-5-5-3.7-4-0.9-13 0.2-4-0.5-5-2-5.5-4.1-2.4-3-0.4-5 0.8-3 3.1-5 2.9-3 24.5-20.7 4-2.8 7-3.7 6-1.8 4-0.2 5 1 7 3.8 3 1.1 14 0.1 8 0.7 4-1.7 5.5-4.8 2.5-3.8 3-6.2 2-13-1-20 4.2-14 1.5-7 0.6-7-0.4-9-1.3-8-2.7-8-3.5-7-8.1-10-2.3-6.2-4.4-8.8-1.2-4-0.8-5 0.5-4 1.2-4 4.2-9 0.2-4-2.3-3-5.4-2.4-5-0.6-14 0-6-2-5-3.3-24.4-19.7z"/>
<path fill="#c6ff39" d="M300.6 51l378.4 0 0 517-559 0 0-284.7 15 3.9 15 4.8 7 1.4 3 0 4-1.2 13.7-6.2 15.3-5.2 11.5-8.8 7-4 5.5-1.4 4 0.2 2 1.2 2.2 3 6.1 18 6.2 9 4.1 4 1.5 5 2.9 4.4 12 7.8 23 12.5 9 3.3 3 0.3 6-0.6 1 1.2 1.1-2.9 5.9-8.1 2-4.8 0.9-4.1 0.3-10-1.2-4.4-3.1-7.6-0.9-1.1-2-1-6 1.6-12 0.7-6-0.5-5-2-5-3.7-1.9-3-0.2-5 3.1-6 3-3.4 23-19.8 5-3.6 7-3.6 6-1.8 4-0.2 5 1 7 3.9 3 1 14 0 8 0.9 5-2.1 4.9-4.3 2.2-3 3.4-7 2.2-14-1-20 4.2-15 1.4-7 0.4-7-0.6-10-1-6-2.3-7-4-8-8.1-10-1.8-6-4.8-10-1.4-7 0.4-4 1.6-5 3.3-5.3 5-5.7 0.3-3-1.3-1.8-1.7-1.2-8.3-3.1-5-0.8-14 0.1-4.4-1.2-9.3-6-13.8-11-5.5-5.4z"/>
<path fill="#d2ff2d" d="M307.2 51l371.8 0 0 517-559 0 0-280.4 32 9.3 5 0.9 4-0.2 6-2.2 12.7-6.4 14.3-5.4 14.6-11.6 4.4-2 4-0.2 2.9 2.2 4.1 6.7 6.5 13.3 5.5 6.9 4.7 4.1 3.3 8 1.8 2 12.2 7.8 22 12.3 9 3.7 11 2.4 2-1.2 2-3 4-8.6 2.6-7.4 1.2-12-1.8-10-3.7-5-4.3-2-2 0-5 2.2-7 0.7-8-0.4-6-2-4.7-3.5-1.3-3-0.1-4 2.4-5 3.5-4 22.2-19.4 5-3.6 7-3.7 6-1.7 4-0.2 5 1 7 3.9 3 1.1 14-0.1 6 1 3-0.2 4.7-2.1 5.3-4.8 2-3 3.4-7.2 2.1-14-1-21 3.8-14 1.5-8 0.4-6-0.6-10-2.3-10-3.9-9-1.8-3-7.4-9-2-7-4.2-9-1.2-7 1.1-6 2.1-4.1 3-3.4 5.4-3.5 1.7-2 0.4-2-0.3-3-2.2-3.1-7-2.8-9-1.7-14-0.4-4.1-1-5.2-3-5.4-4-8-7-5.7-6z"/>
<path fill="#dfff20" d="M314.4 51l364.6 0 0 517-559 0 0-274.1 34 7.6 5 0.3 5-0.9 8-1.9 11-6.1 7-1.9 7-5.3 9.2-8.7 3.8-2.1 3-0.4 7 5 2 1.9 7.1 11.6 10.9 11.2 3.4 7.8 1.6 2 14 8.9 9 4.7 6 4.1 7 3.7 9 3.6 10 1.4 2.3-1.4 2.9-4 3-6 3.4-9 1.4-13-0.7-6-1.1-4-4.2-5.4-5-2.5-2.4-0.1-6.6 2.3-5 0.4-9-0.7-6-2.1-3.3-2.9-0.9-3 0.4-4 2.1-4 2.7-3.2 22.4-19.8 4.6-3.3 7-3.6 6-1.6 4-0.3 5 1.1 7 3.8 3 1.1 14-0.1 9 1 5-2.1 5-4.4 2.6-3.6 3.3-7 1-4 1.3-10-0.9-23 3.7-14 1.5-9-0.5-14-2.2-10-4-9-1.8-3-7.3-9-1.7-6.6-4.3-10.4-0.8-6 1-5 2.2-4 2.9-2.6 7.8-4.4 1.9-2 0.5-2-1-5-0.9-2-1.9-2-4.4-2.1-6-1.2-20-2.3-4.6-1.4-6.6-5-9.5-9-2.5-3z"/>
<path fill="#ecff13" d="M322.4 51l356.6 0 0 517-559 0 0-267.5 40 6 3 0.1 8-1.2 10-3.7 4 0.3 2-0.7 10.3-11.3 8.7-7.9 4-1.8 5 0.4 3 1.1 2 1.6 8.2 10.6 10.8 10.4 2.2 3.6 1.6 5 2.2 2.3 13.5 8.7 8.5 4.5 7 5.1 7 3.7 9 3.5 10 0.5 3.4-2.3 3-4 3.1-6 3-8 1.6-14-1.5-9-1.7-3-3.6-4-5.3-2.7-3-0.1-5 1.7-6 0.6-10-0.8-4.9-1.7-2.3-2-1.1-4 0.5-3 2.1-4 2.6-3 22.1-19.7 4-2.8 7-3.6 6-1.6 4-0.2 5 1 7 3.9 3 1 14-0.2 8 1.2 2-0.2 5-2.3 5-4.6 2.1-2.9 3.7-8 0.9-4 1.2-11-0.9-22 4.9-22 0.2-5-0.6-10-2.2-10-4-9-1.8-3-7.4-9-1.6-7-3.7-10-0.9-5 1-5 2.1-3.6 3-2.4 11.7-6 1.8-2 0.3-2-3.1-8-3.7-3.7-7-2.2-16-1.6-11-3.3-3-1.8-3-2.8-7.3-9.6z"/>
<path fill="#f9ff06" d="M328 51l351 0 0 517-559 0 0-261.2 23 1 23 4 12-2.5 6 0.3 3-1.5 3-2.6 7.5-11.5 5.8-6 5.7-3.8 3-0.7 2 0.1 3 1 3 2 7.4 8.4 10.1 9 3 4 1.5 5.1 3.7 3.9 12.4 8 7.9 4.4 8 6.3 7 3.8 9 3 10-0.3 3.4-2.2 3.6-4 3.3-6 3.2-8 1.1-5 0.7-9-0.6-6-1-4-1.9-3-3.8-4.1-3-2.1-3-1.2-3-0.2-6 1.5-5 0.4-11-0.8-3-1.1-2.5-2.4-0.7-3 0.4-3 2.1-4 2.7-3 21.1-19 3.9-2.8 7-3.5 6-1.6 4-0.2 5 1 7 3.9 3 1 14-0.3 10 1.3 5-2.1 5.2-4.7 2.8-3.9 3.2-7.1 1.1-4 1.3-11-0.9-24 4.7-21-0.3-14-2.1-10-3.7-9-2.3-4-7.4-9-1.6-7.3-3.4-10.7-0.6-4 1.3-5 2.7-3.2 15.1-6.8 4.3-3 2.4-4 0.3-5-0.9-2-1.2-1.1-4-1.3-4-3-4-1.9-7-1.2-13-0.5-5.8-2-5.7-3-4.2-3-3.3-3.6-2.7-4.4z"/>
<path fill="#fff900" d="M334.8 51l344.2 0 0 517-559 0 0-256.4 20-0.5 18 3.4 12 3 4 0.2 7-1.1 6.9-2.6 3.6-3 1.5-2.1 6.1-12.9 4.9-5.5 3-2.4 3-1.5 4-0.3 6 3 9.8 9.7 6.2 4.4 3.2 3.6 1.5 5 3.3 4.8 20.7 13.2 11.3 10.8 2.9 1.2 10.1 2.2 11-1.2 5.9-4 1.9-2 6-12 3-11 0.5-7-1.2-7-2.5-4-5.6-5.9-6-3.4-3-0.2-10 1.5-11-0.4-3-0.8-2-1.8-0.9-4 0.6-3 1.7-3 23.6-22 4-2.6 6-2.9 6-1.6 4-0.2 5 1 7 3.9 3 1 14-0.3 9 1.4 2-0.1 5-2.4 5.4-5.2 2.1-3 3.2-7 1.4-5 1.2-11-0.9-25 4.6-21-0.4-13-2.1-10-3.8-9-2.2-4-7.5-9-4.4-18-0.4-4 1.2-4 2.6-2.9 16-6.3 5.5-3.8 1.9-2 1.6-2.7 1.2-3.3 0.2-3-1.4-3.4-2-2.9-2-1.6-3-1.2-7-2.1-6-1-6-0.5-10 0.5-3.2-0.8-6.3-5-7.5-8.5z"/>
<path fill="#ffec00" d="M344.1 51l334.9 0 0 517-559 0 0-253 13 0.4 14 1.3 11 1.9 13 4 5 0.5 4-0.4 8-2.6 5-3.1 2.7-5 2.9-10 3.2-6 3.2-3.5 3-2.3 3-1.2 3-0.1 6 2.6 10 9.3 5 2.7 4 4.5 0.9 4 3.3 5 19.8 13 4.1 4 6.9 8.4 2 1.6 4.2 1 10.8 0.7 9-1.8 8-4.8 6-11.1 5-12 1-10-0.6-4-1.4-3.7-4-3-7-6.8-5-3-2-0.2-10 1.3-12 0-2-0.5-1.8-2.1-0.8-3 0.2-2 1.2-3 2.5-3 20.7-19.2 5-3.2 7-3 6-1.1 5 0.5 12 5.4 15-0.4 9 1.6 4-1.2 3.7-2.4 5.6-6 4.6-10 1.1-5 1.1-12-1.1-23 4.5-21-0.6-14-2.2-10-3.9-9-2.6-4-6.7-8-3.9-18-0.2-4 1.6-3.8 2-1.9 5-2.2 12-4.1 5.8-4 2.2-2.7 2.4-5.3 0.8-3-0.2-2.9-3-6.9-2-2.4-2-1.4-7-2.4-11-2.7-12 0.7-3-0.4-4-3.1-3.6-5.5zM304 278.8l-1 1.1 0.2 1.1 1.8 0.8 1.6-0.8 0.2-1-1.8-1.2z"/>
<path fill="#ffdf00" d="M363.9 51l315.1 0 0 517-559 0 0-247.7 31 1.1 7 1.4 8 3.1 5 1.2 7 0.8 4-0.7 12-4.3 2-1.2 2-4.7 1.7-12 2.5-6 2.8-3.7 3-2.5 3-1.4 3-0.2 6 2.2 10 8.9 5 2.6 2.7 3.1 0.9 3 4.4 6.8 18.7 12.2 4.7 5 6.6 8.1 3 2.4 3 0.9 7 0.8 5-0.1 9-2.2 5-3 3.3-0.9 6.7-12.7 2.4-6.3 2.6-4.7 0.9-3.3 0.8-9-2.1-7-0.3-3 1.8-4-0.9-4-2.2-2.2-2-0.8-0.2 2 3 8-2.8 1-2-0.9-8.5-8.1-0.3-1 3-3 0.5-2-1.7-1.7-3-0.9-2.2 0.6-1.6 5-1.8 1-5.4 1-16 0.4-1.4-1.4-0.9-3 0.1-2 1.2-3 2-2.5 20.7-19.5 5.3-3.2 6-2.4 6-1.1 5 0.5 12 5.3 16-0.3 8 1.7 4.8-1.5 4.2-3 5.3-6 4.1-9 1.1-4 1.3-14-1.2-24 4.4-20-0.4-13-2-10-4.3-10-2.5-4-6.8-8-3.2-17-0.2-4 1-3 2.4-2.5 4-1.8 12-3.8 3.8-1.9 3.2-2.4 2.1-2.6 2.8-6 1.2-4 0.1-3-1.1-5-1.7-4-2.4-3.8-3-3.2-7-2.4-9-2-4-2.1-2-2.2z"/>
<path fill="#ffd200" d="M387.4 51l291.6 0 0 517-559 0 0-240.6 17-1.6 14-0.3 5 0.9 11 4.3 11 2 8-1.5 7-3.3 5-0.3 2-1.8 1.5-3.8-0.3-14 1.5-6 2.3-3.9 3-2.9 3-1.6 3-0.4 5 1.4 4 2.6 6 5.8 2.4 4 3.6 1.6 2 1.7 5.2 7.7 18.8 12.5 11.4 13.5 3.6 2.9 3 0.8 7 0.9 4 0 10-2.7 5-2.8 3-0.3 1-0.6 12-25.1 1-3.3 1.1-7.8-0.4-4-1.6-4 1.5-6-0.9-5-1.4-2-2.3-1.8-3-1.6-4-1-3-2.8-4-1.5-3 0.1-3 5.3-4 1.4-8 0.2-8 1.1-1.5-1.4-0.5-4 1-2.5 1.9-2.5 6.1-5.4 13.5-13.6 3.5-2.4 6-2.9 6-1.4 4-0.2 5 1.1 7 3.7 3 1 16-0.4 8 1.8 4.6-1.3 3.6-2 4.8-5 2.8-4 3.8-9 1-5 1-12-1.4-24 4.3-20-0.2-11-1.1-8-3-9-4.1-8-7-8-1-2-2.4-19 1-3 2.3-2.3 19.1-6.7 4.4-3 2.6-4 3.6-9 0.6-3-0.1-4-1.7-7-6.8-14zM309.4 283l1.6-0.8 1 0.4 2 2.4 2.6 6 0.1 1-0.7 1.3-1 0.1-2-1.1-5.1-5.3-0.4-2 1.5-1.7z"/>
<path fill="#ffc600" d="M393.7 51l285.3 0 0 517-559 0 0-233.6 7-0.3 17-3.9 6-0.7 4 0.8 8 4 6 2.3 10 1.4 9.6-1 7.4-3.5 4-1 2-1.1 2-2.2 1.9-3.2 0.5-2-2.3-15 0.7-5 2.1-4 2.1-2.4 3-2 3-0.5 5 1.1 4 2.6 4.4 4.2 3.2 5 4.4 2.1 3 2.5 4.2 6.4 18.2 12 11.3 14 4.3 3.3 4 1.1 9 0.6 10.9-3 5.1-2.7 3-0.5 1.5-0.8 11.8-25 2.5-8 0.6-6-1.3-6 1-6-1.5-6-1.6-2.3-3-2.1-10-5-7-2.5-2 0.2-0.6 0.7-1 4-1.4 1.2-2 0.5-8 0.2-7 1.9-1-0.5-0.5-1.3 0.3-3 2-3 8.2-7.7 11.5-12.3 3.5-2.3 5-2.3 6-1.3 4-0.1 5 1.1 9 4.3 18-0.2 5 1.6 2.7 0.2 4.3-1.3 4-2.1 5-5.4 2.8-4.2 3.7-9 1-6 0.8-12-1.4-24 4.3-20-0.3-11-1.6-9-2.9-8-3.7-7-6.9-8-1.1-2-1.6-11-0.3-7 1-3 2.2-2.1 19-6.2 4.6-2.7 2.4-3 5-13 0.8-6-0.7-7-3.3-9-1-5zM309.6 285l1.4-0.6 2 1.2 1.8 3.4 0.3 2-1.1 0.5-2-1.3-2.1-2.2-0.7-2z"/>
<path fill="#ffb900" d="M399.8 51l279.2 0 0 517-559 0 0-228.7 15 0.2 12.8-4.5 3.2-0.4 14 6.9 11.9 2.5 7.8 3 2.9 3 3.4 7.2 5.5 7.8 4.5 9.9 1 1.5 1 0.2 1-2 1-4.6 0.6-9-0.8-20 0.5-2 2.2-4 1.3-8-0.5-4-2.6-10-0.6-6 0.9-3.3 2.4-3.7 2.6-2.1 3-0.8 4 0.6 3 1.5 5 4.5 4 5 5 2.4 3 2.5 3.1 5.4 18.2 12 10.5 14 3.2 3.1 3 2 8 1.5 5-0.4 11-3.2 5-2.7 4-1.1 1.5-1.2 8.7-20 2.8-5.3 3-8.7 0.6-4 0.1-12-1.7-7.2-2-3.7-3-2.5-4-2.1-7.1-2.5-6.9-3.6-2 0.1-2 1.1-2.3 3.4-1.7 1.2-8-0.7-1-0.5 0-1 2-3 13.5-16 3.5-2.6 5-2.3 6-1.3 4 0 5 1.2 9 4.2 18-0.3 5 1.7 2 0.1 6-1.6 4-2 3-3.2 4.3-5.9 4.1-10 0.9-5 0.9-14-1.8-23 4.4-20-0.1-10-1.4-9-2.8-8-4.1-8-8.1-10-1.3-10 0-7 1-2.8 2-1.8 20-6.2 5-2.9 1.9-2.3 2-7 4.3-10 1.5-8 0-4-2.6-8-0.3-5z"/>
<path fill="#ffac00" d="M413 52l0.1-1 265.9 0 0 517-559 0 0-221.8 13-1.6 9 1.5 6-1.9 3-0.2 5 1 12.9 4 8.1 5.3 5 4.7 11 13.5 6.1 9.5 2.9 1.6 3-0.5 1.9-3.1 1.2-6 0.8-13-0.2-16 2.5-8 0.6-4-0.6-7-3.6-12-0.6-6 0.8-3 2-3 2.2-1.8 3-0.7 3 0.4 3 1.6 4 3.2 5 5.2 7.2 4.1 2.7 5 8.1 4.8 10.2 7.2 10.5 15 3.3 3.2 4 2.6 6 1.4 6-0.5 12-3.8 5-2.7 4-1.3 2.4-1.9 14.6-34 1.3-11-0.5-8-1.8-6.1-1.8-3.9-3.1-4-3.1-2.8-3.4-2.2-4.6-2.1-13-0.1-1.1-0.8 0.1-3 2.5-5 3-4 3.5-2.4 5-2.1 5-0.8 4 0 5 1.2 9 4.1 17-0.3 6 1.7 2 0 5.9-1.4 4.6-2 2.5-2.4 5.3-7.6 4-10 0.9-5 0.9-10-0.1-8-1.3-9-0.6-11 4.3-19 0.1-10-1.1-8-3.1-9-4.8-9-7.5-9-1.1-8 0.3-7 1-3 2.2-2 19.6-5.7 4-1.9 3.1-2.4 1.7-3 2.3-8 5.9-10.7 2-2.5 5.1-3.8 0.3-2-2.4-8 1.7-6z"/>
<path fill="#ff9f00" d="M451.4 52l0.7-1 226.9 0 0 517-559 0 0-208.9 10-1.4 14-0.5 9 0.5 9-2.3 4 0.3 4.1 2.3 7.5 8 9.4 6.8 10.1 12.2 3.9 1.8 5-0.4 1.7-1.4 1-2 1.6-7 1-14-0.1-15 3.1-13-0.8-7-4.4-13-0.2-5 0.6-2 1.5-2.3 2.2-1.7 2.8-0.9 3 0.4 4 2.2 4 3.3 6 6.7 2.7 2.3 11.6 7 9.9 7 2.5 3 5.2 9 2.9 4 4.2 4 3.5 2 6.5 1.6 5-0.5 13-4.4 11.2-5.7 2.2-3 5.9-16 7.9-17 1.8-10-0.1-6-2.7-10-3.2-5.6-4.7-4.4-5.3-3.2-5-1.9-7-0.9-1.7-1-0.7-1-0.2-2 1.5-4 3-3 3.9-2 3.2-1 5-0.6 6 0.9 9 3.9 3 0.7 16-0.5 7 1.7 8-1.6 4-1.6 3-3.1 5.8-8.8 3.8-10 1.4-12 0-9-1.7-10-0.7-11 1.7-9 2.9-11 0.2-11-0.9-6-2.7-8-5.4-10-6.9-8-1-2-0.6-8 1.2-6 1.4-2 1.5-1.1 19-5.1 5-2.4 3-2.4 2.6-4 2.4-7 2-4 4.4-6 7.6-7 4-9.6 2-2.9 2.7-2.5 4.3-2.1 5-1.3 12 1.5 2-0.5 2-1.4z"/>
<path fill="#ff9300" d="M480.5 51l198.5 0 0 517-559 0 0-192.8 11-1.1 16-3.2 5.8 1.1 4.2 2.8 6-2.4 3-0.5 3 0.5 5 1.7 6 0 3 1.1 3 2.3 8 9.9 2 1.7 5 1.7 8 0.6 1.6-3.4 2.2-12 0.8-14 0.1-15 3.2-12-0.7-6-5.1-13-0.7-5 1.8-4 1.8-1.5 3-1.2 3 0.4 4 2.1 3 2.4 3.5 4.8 3.2 3 12.6 7 9.8 7 2.5 3 4.9 9 3.4 5 4.1 4 3.5 2 7.5 1.8 5-0.6 14-5.1 11.1-6.1 1.9-2.6 5.7-16.4 8.4-17 2.5-10 0.3-6-2.6-10-3.4-6-4.1-4-5.8-3.9-5-2.2-8-2.2-1-0.9-0.6-1.8 0.7-3 1.8-2 3.3-2 3.8-1.2 4-0.4 6 0.7 12 4.5 17-0.3 6 1.4 11-1.9 4-2.4 6.7-9.4 2.3-4.2 2.7-7.8 1.4-12 0-9-0.4-4-1.7-6-0.8-11 1.8-10 3.2-11 0.7-7-0.2-5-1-5-2.7-7-6.1-11-7.3-9-0.5-6 1.1-5 1.8-2.4 2-1.3 18-3.9 4-1.7 4-2.9 4.8-5.8 4-9 3.7-6 12.5-15.9 5-3.9 4-1.5 4-0.3 6 0.8 7 2 8-2.2 10-0.9 4 1.3 9 5.6 3 0.4 2-1.1 0.7-1.3-0.1-4-1.6-4.1-4-4.9z"/>
<path fill="#ff8600" d="M486 51l193 0 0 517-559 0 0-184.8 7-1.5 4-0.1 23 5.3 4 0.3 3.2-1.2 4.7-5 2.1-1.5 4-1.1 7-0.7 2.7 1.3 2.3 2 10 13.2 4 1.7 7 0.9 5 3.2 1-0.3 1-1.8 1-3.9 2.2-18 1.1-30 3.1-8 0.4-3-1.2-6-5.6-12-0.9-5 0.6-2 1.3-1.7 4-1.9 3 0.3 4 2.2 4 5.1 3.4 3 3.6 2.4 9.3 4.6 9.6 7 3.2 4 4.5 9 2.6 4 3.8 4.4 4 2.5 8 2 6-0.6 14-5.4 12-6.9 1.5-2 1.9-7 3.7-10 9.3-18 2.8-9 0.8-7-2.8-10-3.5-6-4.4-4-5.3-3.6-13.5-5.4-1.3-2 0.4-2 1.8-2 2.6-1.4 3-0.9 4-0.2 5 0.6 10 3.9 3 0.6 17-0.4 6 1.2 11-1.7 4-2.2 7.6-10.5 2.4-4 2.8-8 1.4-11-0.1-9-0.5-5-1.8-6-0.9-12 1.4-8 3.2-10 1.1-5 0.7-5-0.2-6-1-4-2.1-5-9-15.6-4.8-6.4-0.3-4 1.1-3.9 2-2 2-0.9 10-1.4 9-2.2 8.2-4.6 2.9-3 4.3-6 6.1-14 4.9-8 4.6-4.4 7-4.1 6-1 12 1.2 13-0.6 7 0.9 11 3.1 3 0 2-0.6 2.4-2.5 1.1-4-0.8-6-2.7-6z"/>
<path fill="#ff7900" d="M490.1 51l188.9 0 0 517-559 0 0-168 15-1.3 12-2.3 15-5 9-5.4 2-0.6 2 0.2 1 0.9 0.4 1.5-2.2 4-0.2 2 0.5 2 1.5 2.7 6.7 8.3 2.7 7 2.8 5 3.8 3 7.2 3 3.8 0.6 3-1.5 6-8.3 2.6-8.8 2.2-20 2.1-39 0.6-3 3.3-8-0.1-4-0.7-2.8-5.2-9.2-2.1-6 0.1-3 2.2-2.2 3-0.1 4 1.4 8.6 6.9 13.3 7 7.8 6 3.1 4 7 14 4.2 5 3 2.2 10 2 6-0.8 13-5.2 14-8.1 1-1.6 1.5-6.5 4-11 8.8-16 3.1-7 2.5-8 0.3-4-2.8-10-1.7-4-1.7-2.3-5-4.2-6-4.1-12-4.6-1.1-0.8-0.3-2 2.4-2.2 5-1 5 0.6 14 4.5 17-0.7 7 1 11-1.5 3-1.4 1.5-1.3 8.7-12 2.3-4 2.5-7 1.3-9 0.1-7-0.8-8-2-7-1.1-12 1.3-8 3.5-10 1.8-7 0.3-9-0.5-3-2-5-5.9-9.5-6-13.5-0.4-3 1-3 3.4-2.1 18-4 9.1-4.9 4.1-4 4.9-6 5.1-13 3.8-7.2 3.2-2.8 7.8-3.9 5-1.1 16.3 0 17.7 2.9 7 2.4 2.6-0.3 3.4-1.6 3.6-3.4 1.8-4 0.6-9-1.7-5z"/>
<path fill="#ff6c00" d="M493 51l186 0 0 517-559 0 0-39.8 1-0.7 0.5-1.5-0.2-12 2.4-10 5.5-10 1.7-5 0.6-4-4.9-22-3.6-5.8-3-1.9 0-10.5 5-2.1 2.7-2.7 3.1-13 4.8-10 3.8-4 3.5-2 9.1-2.5 6-0.4 3 1.3 2 1.9 2.3 5.7 1.9 8 3.7 4 3.1 1.8 3 0.4 9-0.7 14 0.4 5-1.4 3.1-2.5 3.9-5.9 3.1-6.1 2.4-11 2.2-21 1.4-28 1.3-8 2.7-10-0.9-7-3.8-7-0.9-3 0.3-3 2.2-1.6 3-0.6 3 1.1 7 4.3 9.7 4.8 6.6 5 3.9 5 6.8 15.5 4.8 5.5 3.2 2.2 11 1.2 6-0.9 13-5.5 14.1-8 1.5-2 1.3-7 4-11 4.1-8 7.2-12 3.3-7 1.9-6 0-5-1.8-10-3.6-5.2-5.8-5.8-0.9-2 17.7-3.5 6-0.1 5 0.8 9-0.6 4-1.1 4-3.1 9.8-13.4 2.6-5 1.8-5 1.5-9 0-6-1.3-9-2-7-1.3-12 1.3-8 3.8-10 1.9-7 0.5-9-0.6-3.3-1.8-4.7-5.7-9-2.6-6-1.8-7 0.3-4 1.6-1.8 2-1 18-4.6 6-2.8 4.2-2.8 6.8-6 4.1-5 2.1-4 1.6-6 3.2-5.2 3-3.2 4.6-2.6 3.4-1 13-1.6 12 1.3 16 3.1 3-0.3 4-1.6 4.6-3.9 2.5-5 1.2-10-1.1-6z"/>
<path fill="#ff6000" d="M495.3 51l183.7 0 0 517-559 0 0-28 2-0.4 2-1.5 3.3-7.1-2.1-10 0.1-6 1-6 1.3-4 10-18-0.7-14 4.2-14 4.9-7.1 4.3-7.9 3.7-3.9 6-2.3 32-1.2 12-2.4 3-1.8 3.3-3.4 7.3-14 1.4-5 2.8-25 2.2-29 3-17-0.9-8-3.4-9 0-2 1-2 2.3-1.1 3 0.7 14.4 7.4 6.6 5 2.6 3 1.5 3 3.4 11 2.3 5 4.3 5 4.9 3 11 0.8 7-1.2 12-5.2 13-6.9 3-2.3 1.3-2.2 1-7 4-11 4.7-8.9 10.4-16.1 3.2-7 1.5-11 0.9-2 1.9-2 0.1-1-1-1.3-5.3-3.7-0.1-2 1.7-5 2-2 2.7-0.9 4-0.2 6 0.7 9-0.5 3-0.8 2-1.2 3-2.7 4-6 6.8-8.4 2.8-5 1.9-5 1.5-8 0.1-6-2-10-2-7-1.3-13 1.2-7 3.7-9 2.3-8 0.6-9-0.7-4-1.5-4-6.2-10-2-5-1-6 0.8-3.4 1.8-1.6 2.2-0.9 13-2.9 6-1.9 10.3-5.3 7.3-6 12.4-14.9 7.9-7.1 3.1-1.7 5-1.2 6-0.4 11 1.3 12 0.5 5-0.8 4-1.7 5-4.3 2.9-5.7 1.2-10-0.7-7z"/>
<path fill="#ff5300" d="M497.2 51l181.8 0 0 517-559 0 0-21.3 4 0 2.7-0.7 2.2-2 0.7-2 0-12-1.7-10 0.3-6 1-5 5.3-12 6.3-9 2.6-16 9.8-19 1.8-2 6-3.6 7-2.8 9-1.9 15-0.2 15-3.1 2-1.4 2.2-3 5.9-14 3.4-6 1-4 0.3-7 4.5-45 2.9-17-0.9-8-3.4-11 0.2-3 1.9-1.5 3 0.6 13.5 6.9 6 5 2.1 3 1.2 3 0.7 4 0.2 7 1.8 5 3.2 4 7.3 4.6 6 1 11-0.8 9-3.2 14-7.4 2-0.5 2 0.8 6.6-7.5 0.9-7 1.5-5 2.2-6 3.8-7.4 15.5-21.6 2.1-4 2.1-7 1.1-2 6.1-6 0.4-2-0.6-1-5-4-1.6-2 0.5-3 2.4-1 14 0.8 2-0.5 2-1.3 5-5.4 4-6.3 8.5-10.3 2.3-4 2.4-6 1.4-7 0.1-5-4.9-18-1.4-13 0.9-6 4.3-10 2.2-7 0.7-4 0.1-6-1.9-8-5.7-9.3-2.1-4.7-1-5 0.2-2 0.9-1.9 4-2.1 12-2.3 7-1.9 12.7-5.8 6.7-5 12.6-14.2 7-5.5 3-1.7 7-1.4 10 0.1 14-1 7-1.7 4-2 4-3.6 3.5-6 1-9-0.2-10z"/>
<path fill="#ff4600" d="M499.1 51l123.1 0 1.8 4.7 2 1.2 3-0.7 3-1.5 1.5-1.7 0.2-2 45.3 0 0 517-559 0 0-17 5 0.3 4-1.2 3.2-2.1 1.7-3-3.8-23 0.5-9 2-7 5-11 6-8 5.4-14.2 8.1-10.8 2.9-6.1 1.7-1.9 2.3-1.4 12-3.7 8-0.9 9 1.1 7 0 3-0.7 3-1.5 4-3.3 3-3.6 2.2-4 4.4-14 3.3-5 1-3 0.5-12 3.6-32.5 2-14.6 2.2-10.9-0.6-6-4.4-14 0.2-3 1.6-0.7 2.7 0.7 9.6 5 2.8 2 4.9 4.9 1.2 2.1 0.7 3-1.6 10 0.9 5 1.4 3 2.5 3 2.9 2.2 3.5 1.8 7.5 1.7 12-0.9 11-3.6 15-8.1 2 0.3 1 1.7 1 0.6 2.2-4.7 5-6 0.7-2 0-5 1.1-4 2.6-7 3.4-6.5 3-4.6 6-7.3 10.7-11.6 4.3-8.5 2-1.8 3-1.6 13.8-4.1 2.5-2 2.6-5-2.8-8 0.6-4 4.3-7.8 11.1-13.2 4.1-9 1.2-6 0.1-4-6-19-1.4-14 0.8-5 4.3-9 2.6-8 0.8-4 0.2-6-1.8-8-5.3-9-2.1-5-0.7-4 0.9-3 2.2-1.2 21-4.2 16.8-6.6 6.2-4.9 12.8-14.1 4.2-3 5-1.4 23-3.3 11-2.9 4-1.9 4.8-4.5 3.6-7 0.6-6 0.1-14zM375 274l-0.6 3 0.5 2 7.1 4.7 4.1 5.3 0.2 2-1.3 7-4 5.3-0.9 2.7 0.8 2 1.3 1 1.8 0.4 2.2-0.4 2.8-1.5 6.6-6.5-0.6-3.4-2.9-7.6-0.3-5-2.8-5.8-3-2.9-3-1.4-7-1.3z"/>
<path fill="#ff3900" d="M500.9 51l100.6 0-0.7 4 0.2 2 4.5 7 5.1 4 5.4 1.1 5-0.4 3-0.9 16-9.1 2.7-2.7 0.8-5 35.5 0 0 517-559 0 0-14.2 5 0 5-1.4 4.4-2.4 2.3-3 0.1-4-3.3-10-1.4-10 0.5-10 1.8-7 3.2-8 2.2-4 7.2-8.9 4.6-4.1 11.4-14.7 3-3 4-2.8 8-2.9 5-0.8 12.5 0.2 8.5-2.5 3-2 4-4.2 7-9.6 3-5.6 4-11.2 1.4-8.9 1.3-17 3.3-18.5 2-5.9 1-0.6 3 0.9 2-0.3 13-7.1 14 2.5 14-1.6 11-4.1 15-8.2 1.7 0.9 1.3 2.5 1-0.4 1-1.1 2-5 4-4.8 1.2-2.2 0.2-6 1.6-5.8 2-5.3 5-8.8 9-9.9 9.8-7.2 6.2-7.2 3-2 4-0.9 9-0.7 3 1.1 2.2 2.7 0.5 4-1.1 3-4.6 5.9-4.1 4.1-0.1 2 2.2 2.1 3-0.1 6-2 7 0.5 3.4-0.5 3.6-1.8 5-5.3 6-2.9-2.1-5 0.3-4 0.8-1.3 2-1.5 2-0.5 3.5 0.3-0.5-1.7-9-6.4-5.3-5.9-4.7-4.1-12-6.5-2-2.2-0.5-2.2 0.7-3 1.9-4 10.2-11 3-4 3.6-7 1.6-7 0-3-1-4-6.1-15-1.5-12 0.3-7 6.2-13 2.2-7 0.8-6-1.3-9-5.8-11-0.8-3 0.1-2 1.4-2.1 3.6-1.9 15.4-2.6 21-6.1 4-2.7 12-10.9 5.3-2.7 2.2-3 3.9-2 11.6-2.9 8-1 15 2 5 2.4 2-0.6 2.7-2.9 1.2-4-0.7-3-2.4-4-0.2-2 3.1-11 0.1-20zM231 323l3 1 3 2.4 4 2.2 6 7.3 0 3.1-3.3 8-1.7 1.8-2 0.4-1-0.3-1.6-1.9-0.5-6-1.6-5-0.5-5-1-2-2.8-2.9-0.7-2.1z"/>
<path fill="#ff2d00" d="M502.7 51l81.6 0-0.1 5 0.8 2.7 1.7 2.3 4.6 4 13.7 6.4 5 1.4 5 0.6 5-0.4 5-1.6 6-3.3 9-6 3-2.4 2.3-2.7 2-6 31.7 0 0 517-559 0 0-11.9 7-0.8 6.4-2.3 4.2-3 1.7-3 0.2-2-0.6-3-4.2-11-1-11 0.6-7 1.4-6 4.1-11 2-3 5.2-5.7 5.5-4.3 10.5-11 6-4.8 4-2 5-1.6 17-1.8 7-1.9 4-2.1 3-2.4 7-8.9 6-10.3 4.5-12.2 3.7-26 3.8-15.6 2-4.8 4-1.8 7-4.2 7-2.5 13 0.1 14-2.4 12-5.3 12-7.1 1-0.1 0.9 0.7 1.1 2.5 2-0.4 1.6-2.1 1.9-5 5.3-7 0.5-2-0.4-4 1.1-4.5 2-5.6 4-7.3 6-7.2 4-3.3 4-2.5 5-1.8 4.2 0.2 2.8 1.6 4.8 5.4 3.5 3 3.7 1.8 4 0.2 6-1.7 9-1.1 4.1-1.2 3.2-2 2.7-4 2-1.5 8.2-1.5 3.4-2 3.5-3 1.4-3 0.1-3-1.6-3.7-3-4.4-8-5.1-13-11.2-10-5.6-1.9-3 0.4-3 1.5-3.1 11.2-10.9 3.3-4 3.8-7 1.4-6 0-4-0.9-3-5.8-11.1-2-5.7-1.6-15.2 0.6-3.4 5.6-9.6 6.5-16-1.5-9-3.9-8-0.1-3 1.4-1 2-0.2 15 3.6 10 0.4 1.1-0.8 0.7-4 2-2 5.2-3.3 3-0.7 2 0.3 4.8 2.7-0.6 1-8.2 5.2-9 2.9-0.9 1.9 0.4 1 4.5 0.2 4 2.3 1.3 1.5 1.1 4 1.5 2 11.1 7.5 9 7.5 4 2.6 4 1.4 4 0.5 4-1.3 4-2.7 4.2-4.5 6-9 7.8-6.3 6-9.9 0.3-1.8-0.3-2-3.5-9-4.1-6 0.4-2 13.2-7.1 2.7-1.9 1.3-2-3.2-19-2.7-9 0.7-10-0.6-13 0.4-6zM468.8 113l1.2-0.6 2 0.9 1.2 2.7-0.5 2-2.7 1.2-2-0.2-1-0.8 0-2.2 1-2zM450.8 122l1.2-0.6 2.2 0.6 0.6 1-0.7 2-2.1 1.6-2-0.1 0.1-3.5zM401.7 293l1.3-0.4 2 0.2 2.4 2.2 0.3 3-1.7 2.2-3 0.1-2.1-1.3-1.1-3 1.2-2.5z"/>
<path fill="#ff2000" d="M504.6 51l69.5 0-0.6 10 1.4 3 2.1 1.9 9 5.4 6 2.5 11 2.9 11 1.1 5-0.6 5-1.5 10-6 11.9-9.7 3.4-5 1.6-4 28.1 0 0 517-559 0 0-9.7 9-1.9 6-2.2 4-2.5 2.6-3.7 0.4-2-0.4-3-5.2-12-1.1-10 0.6-8 1-5 4.1-12 2-3 5-4.9 14-11.7 7-4.8 5-2.3 5-1.4 16-1.8 6-1.4 7-3.9 6.3-6.8 5.7-9.9 5-10.9 3.4-10.2 4.7-24 4.2-11 4-7 6.7-4.4 8-3.6 13-1.7 13-3.2 11-5.4 11-6.7 1.6 0 1.3 2 1.1 0.4 2-0.7 2-2.4 2.1-5.3 5.2-7 0.5-2-0.3-4 0.5-2.9 2-6 2-4 3-4.8 3-3.5 3-2.7 5-3.1 4-1.1 3.2 0.1 3.5 2 4 4 5.3 2.7 5 1.6 4-0.1 16-3.6 4.7-1.6 3.4-2 2.3-4 1.6-1.5 2-0.5 4 0 3-0.9 4.8-3.1 3-3 1.3-3 0-4-5.1-9.2-9-5.9-13-10.9-8-4.2-2.3-2.8 0.2-3 2-3 12.1-10 4.2-5 2.8-5 1.4-6 0-4-1.3-4-7.1-11.4-2-5.1-1.8-15.5 0.5-3 4.9-7 6.4-11 9-6.1 3-1.3 3-0.5 2.8 0.9 1.8 3 1.8 1 12.6 2.8 7 2.8 5 3.2 7.8 6.2 5.4 3 13.8 5.3 5-0.9 2-1.2 1-2.7 0.3-6.5 1.2-3 7.6-12 10.2-11 4-6 1-4-0.2-9 1.1-6 1.5-3 5.5-7 1.7-4-0.2-5-5-17-2.3-10-1.6-19 0.7-7zM489 196.8l-2.4 1.2-0.8 3 4.9 17-2.2 8-0.1 2 1.7 2 3.9 1.3 3-0.7 8-5.2 6-2.7 8-0.7 1.2-1 0.2-2-2.4-2.9-7-2.7-3-1.9-14-12.5-4-2.1zM402.2 295l1.8-0.7 1.5 0.7 0.7 1-0.2 2.1-1 0.9-2-0.2-1.4-1.8 0.4-1.7z"/>
<path fill="#ff1300" d="M506.9 51l60.8 0 1.5 10 1.3 4 2.5 3.8 5 4.6 7 4.4 8 3.1 7 1.6 8 0.6 6-0.3 6-1.3 5-2 5-3 7-5.2 9-8.2 5.3-6.1 3.9-6 23.8 0 0 517-559 0 0-7.2 18-5.8 4.5-3 2.2-3 0.5-2-0.5-3-6.4-12-1.5-9 1-13 5.2-15.4 6-5.8 13-9.6 5-3.1 7-2.6 6-1.6 14-1.2 7-1.6 6-2.6 5-4.2 6-8.4 6.6-14.9 4.7-14 6.3-25 4.8-10 4.1-6 6.5-4 4-1.8 27-8.3 22-12.4 3 1.6 3-0.7 2.1-2.4 2.5-6 5.2-7 0.5-2 0-6 3.7-9.8 5-6.8 3-2.7 3-1.8 4-1.4 4 0.2 2.7 1.3 3.3 3.6 2 1.1 10 3 5-0.2 16-4.4 7.9-3.1 2.7-2 2.4-4.4 2-0.5 4 0.2 3-1.1 5-3.2 4.2-4 1.3-3 0.4-4-3-5-2.9-6.4-3-2.5-13-8-6-6.5-7.2-3.6-1.8-1.7-0.4-1.3 0.5-2 1.9-2.1 10.7-6.9 5.6-5 3.8-5 2.4-6 0-5-1.5-5-10-13.4-1.3-2.6-0.9-4-0.3-7-1.4-6 0.9-3.3 11-13.1 4-2.7 4-1.2 1.2 0.3 2 2 1.8 0.7 13 0.9 8 1.3 8 3.6 12.8 8.5 10.2 4.3 2.9 1.7 10.1 10.2 5.4 9.8 1.5 9-0.5 13 0.6 1.2 1.4 0.8 6.6 1.3 6-0.8 22.2-9.5 3.7-3 1.4-3 0.2-3-1-3-1.5-1.9-5-4.5-12-6.7-7-5.7-5.6-3.2-3.4-2.8-3-4.2-1.5-5 2-8 4.1-9 3.4-4.5 7.7-7.5 2.6-4 1.3-4 2.6-15 5.8-12.2 1.5-4.8 0.3-4-0.6-4-5.7-16-2.5-11-2.5-17 1.2-6z"/>
<path fill="#ff0600" d="M509.7 52l0.3-1 50.4 0 2.8 5 4.1 13 3.7 5.5 4 4.5 6 4.5 6 3.1 10 2.8 7 0.6 11-1.1 7-2.6 5-2.6 12-9.8 23.1-22.9 16.9 0 0 517-559 0 0-3.8 3.3-2.2 2.7-1.4 10-2.5 6-2.4 5-3.5 2-3.1 0.1-2.1-1.1-3-7.9-12-1.7-8 0.1-7 0.8-7 1.7-5.9 3.6-9.1 9.4-8.1 13-7.5 29-4.9 13-4 5-2.9 5-7.3 3-6 6.6-20.3 5.9-22 3.6-10 5.9-10.2 3-3.7 5-3.7 4.5-2.4 26.5-10.7 20-11.8 5 0.3 2-0.8 2.6-3 1.9-5 5.8-8 0.6-3 0.1-5 3-8.3 4-5 5-3.6 4-1 5 0.1 2 0.8 3 2.8 2 0.9 12 2.7 4-0.4 10-3 14.7-6 4.3-3 2-3.3 4 0 4-1.6 6.2-4.1 4.3-4 1.8-4 0.6-4-0.4-1-3.6-4-1.2-6-3.7-3.3-14.8-8.7-1.7-2-3.5-6.8-4.7-3.2 0-1 0.8-1 8.9-4.2 12-9.7 4-5.9 2-6.2-0.1-3-1-2-10.9-10.2-6-6.9-2-3.6-0.7-9.3-1.6-7 0.5-1 6.8-6.9 4-2.5 4-0.8 16-0.3 12 1.2 8 3.1 23 12.4 5.2 4.8 7 10 2 4 1.8 8-0.3 8 0.8 5-0.1 5 0.6 1.2 1.6 0.8 13.4 0.5 13-3.5 17.2-10 8.7-7 0.7-3-1-3-2-3-4.6-4.9-2.5-2.1-7.4-4-11.1-7.3-6.4-4.7-4.5-5-1.6-5 0-7 3.4-8 2.1-2.4 7-4.9 3.4-4.7 3.6-17.6 6.3-16.4 1.7-7 0.1-4-1-5-1.4-4-5.2-11-5.5-23.2-0.4-3.8 1.6-4zM586 226.5l-1 0.8-0.7 1.7 0.5 3 2.2 3.5 2 1.3 1-0.1 1.5-1.7-0.2-3-2-5-2.3-0.8z"/>
<path fill="#f90000" d="M515.8 52l0.4-1 24.8 0 1.1 4 0.5 7 1.4 0.9 7 1.2 3 1.9 2 2.6 8.7 16.4 4.3 5.6 3 2.2 8.4 4.2 5.6 3.5 6 2 6 1 5-0.7 7-2.4 8.2-3.4 7.8-4.6 7.9-6.4 17.1-19 5-4.2 7-4 16-5.5 0 514.7-556.5 0 2.2-3 2.9-2 11.4-3.2 6-2.5 4-2.8 2.7-3.5 0.7-3-1.1-4-6.3-7.4-3.5-5.6-1.3-5-0.4-6 0.7-9 2.2-7 3.3-5.3 7-8.5 7-4.1 5-1.7 3-0.4 13 4.4 18.2 4.6 6.8 0 2.6-2 9.4-15.5 5-11.8 7.9-26.7 2.7-14 3.2-10 9.3-16 5.9-6.8 10.1-7.2 20.9-9.6 19-11.9 2-0.7 4-0.3 3-1.8 2.1-2.7 1.9-5 5.3-7 1-3 0.2-5 1.5-4.8 2-4.2 3-2.8 3-0.9 8 1.6 6-0.9 16 2.5 5-0.6 8-2.7 17.3-8.2 5.7-4.1 5-1.9 5-2.9 5.8-4.1 3-3 4-9 0.1-3-0.9-3.6-1.7-2.4-3.7-3-17.7-11-1.6-2-0.8-3 0.1-4 1.4-2.7 4.1-4.3 9.8-8 2.8-3 3.3-5 2.1-6-0.6-4-2.3-4-12.4-9-4.4-5-2.2-4-1.6-6-0.1-7 1.4-5 3.3-4 3.8-1.8 5-0.9 13-0.7 11 0.9 6 1.8 14 6.2 10 5.8 5.4 5.7 7.2 13 1.1 7-0.4 10 1.2 5 0.5 6 2 2.1 4 0.7 12-0.4 13-2.5 5-1.9 9.1-6 4.9-2.5 4-1.4 5-0.3 23 3.7 15 3.6 3 1.3 4 2.9 10.1 10.7 2.9 0.7 2.4-1.7 1.3-3 0.7-6-0.1-5-1-6-2-5-6.3-8.1-2-0.8-11 2.4-4-0.1-2.9-1.4-8.1-6.3-2.6-2.7-5.4-10.3-2.7-3.7-6.8-5-7.5-4-4.1-5-0.4-3 3.5-14.2-0.7-0.8-1.3-0.2-13-0.4-2-0.6-0.1-1.8 1.8-7-0.8-7 0.5-4 3.6-10.1 6.3-14.9 1.4-9-0.6-5-1.6-5-9.5-14.6-2-4.7-3-9.8-1.3-4.9-0.2-3 0.8-2 2.7-3zM414.9 284l1.1-0.2 0.4 1.2-0.4 0.4-1.2-0.4z"/>
<path fill="#ec0000" d="M676.6 66l2.4-0.2 0 502.2-548.7 0 2.2-2 10.5-4.2 5-2.9 4.2-3.9 2.8-5 0.2-3-1.4-4-8.8-9.7-1.9-3.3-1.1-3.4-0.7-5.6 0.3-8 1.4-5.5 2-4.1 10-10.8 3-1.6 4-1 6-0.3 6 3 26 3.9 6 0 4-1.4 1.8-1.2 6.2-9.1 5-11.3 10.6-36.6 2.3-13 2.1-6.2 2-3.9 9.8-14.9 5.2-6.1 12.1-8.9 15.9-8.4 19-12.5 6-1.9 3-1.9 2.6-3.3 2-5 5.2-7 2.2-9.9 2.4-5.1 2.6-2.5 4-0.6 7 1.1 7-0.3 15 1.6 3.1-0.3 5.9-1.6 5-2 5-3.4 11-5.1 14-7.7 9.1-6.2 3.7-4 3.8-6 1.1-3 0.2-4-1.2-3-3.7-3.7-12.5-7.3-4.1-3-2.7-3-0.9-4 1.2-3.4 4.4-4.6 3.6-3.2 10-6.8 5.2-10 0.4-4-1.5-5-3.4-5-3.7-2.9-9.3-5.1-3.1-3-2.7-4-1.9-5.7-0.2-4.3 1.1-6 2.1-3.3 4-2.3 8-1.6 9-0.7 9 0.7 5 1.2 10 4 6 1.8 8.2 5.2 5.3 6 5.7 12 0.8 5-0.5 15 2.9 11 0.6 1 2 1.3 5 0.5 12-0.7 16-2.6 4.6-1.5 13.4-7 5-1.2 5-0.2 20 2.3 13 3.4 4 1.8 4 2.6 11 10.9 3 1.1 3-0.5 2-1.2 2.4-3 1.7-6 0-12-2.3-14 0.7-3 0.2-8-1.6-4-2.1-2.5-7-3.8-2-1.8-5-9-2.6-10.9 0.1-2 1.8-3 1.7-5.2 2.7-4.8 1-8 1.3-4 2.6-5 3.6-5 2.8-7.3 7-5.8 7.3-8.9 5.7-5.4 11-7.9 6.2-2.7 1.4-3 5.4-5.4 14-16.7 4-2.9 4-2 13-2.9zM500 312.8l-8 2.8-13 6.9-8 2.2-7.3 3.3-11.7 7-4 3-4.6 5-2.1 4-0.9 3 0.6 1.2 7 4.5 3 1.3 2 0.2 14-1.6 13-2.5 14-5.4 9-1.1 21-0.9 16-1.5 6 0.7 10 2.8 4-0.1 2.9-1.6 1.7-3 0.4-4-0.9-3-7.1-12-2-1.8-5.6-3.2-2.9-3-5.5-1.9-4-0.1-3 0.7-7 3.1-6 0.5-4-1-4-2.5-4-1.5-4-0.8-4 0.1z"/>
<path fill="#df0000" d="M676.5 83l2.5-0.5 0 184.2-7-4.8-7-2.5-8-5-4-1-7-0.2-5 1.2-3 1.9-2.2 2.7-5.7 10-6.1 3.4-5 1.1-6-0.9-4 0.5-5-1.6-3 0.6-2.9 2.9-0.6 4 0.2 3 2.2 9-0.4 11 1.5 9.7 1 1.1 3.7 1.2 0.8 1-0.4 6-1.1 0-3-2-2 0.4-9.8 9.6-1 3 1.6 3 2.5 2 3.7 1.4 3 0 2-0.8 1.9-1.6 3.1-7.3 7-2.9 5-0.5 7 1.9 6.1 5.8 4.5 3 3.4 1.1 5 0.3 4-0.7 7.6-2.7 18.4-9.6 4-1.5 0 245.1-536.9 0 7.9-6.9 4.7-5.1 2.7-4 1.1-4-0.4-3-1.5-3-8.6-8.1-2.8-3.9-1.3-3-1.1-6 0.1-6 1-5 2.1-4.7 3-3.2 8-5.7 4-1.7 3 0.1 3 2.3 2 0.7 11 1.1 22 4 5-0.1 4-2.1 5-1.5 1.8-1.2 3.2-7 3.7-11 6.3-27 8.8-30 10.8-19 5.5-7 6-5 11.3-8 11.6-7.1 15.2-10.9 10.8-6 2.6-3 2.7-6 4.5-6 3.2-10.6 2-3.5 2-2 2-0.8 3-0.2 26 2.1 6-0.7 8-2.5 3-1.4 5-4 12-5.8 12-6.7 7.7-4.9 5-4 5.8-7 1.7-3 0.8-3-0.2-3-1.6-3-4.5-4-13.7-7.8-2.2-2.2-1.6-3 0-2 0.7-2 4-5 4.1-2.9 9-4.4 1.9-1.7 6.9-14-1.8-7.1-4.7-6.9-5-4-10.3-5-2.3-2-2.2-3-1.6-5-0.1-4 1.7-5 2.5-3.5 4-2.3 5-1.2 8-0.6 8 0.6 5 1.2 9 3.3 7 1.5 7.1 5 2.7 3 2.6 4 3.6 10 0.7 7-1.3 12 0.8 7 1 4 1.4 3 1.4 2.3 2 1.4 11-0.1 26-3.1 6-1.5 9.2-4 5.8-1.5 14-1.2 9 0.3 10 2 9 3.7 5 3.7 12 12.1 5 2.1 3 0.2 1.4-1.4 1.1-4 3.5-6 1-11 0.2-14 2.6-7 1.7-3 2.5-2.9 12.8-9.1 1.8-3 0.9-4-0.4-3-3.5-7-2.4-2-8.2-5-3-4-0.6-4-2.1-6-0.9-11 0.7-11 2.1-9 6.8-10.2 8-7.7 9-5.7 14-3.3 3-1.3 8-6.6 7-3.2 0.1-1-1.5-3 2.1-3 4.3-2.7 6-2.2zM553 296.9l-7.8 6.1-2.2 1-3-0.4-4-1.3-5.1-3.3-4.9-0.9-6 0.2-5 1.7-7-0.7-6 0.6-7 2.2-5 2.9-15 6.4-6 1.1-9 6.2-6 2.9-15 11.4-4.4 5-14.2 19-1.1 2-0.1 2 1.8 2 6 2.5 21 2.7 20 4.3 7 0.8 4 1.5 2-0.7 3.3-5.1 4.3-4 6.4-1.7 10-4.3 13-3.8 19-1.4 17-0.1 6-1 4-1.5 5-3.2 3.9-4 4.5-7 0.9-2 0-2-1-2-8.4-11-4.1-13-2.8-6.7-2-2.2-2-1.3-2-0.7-2 0.3z"/>
<path fill="#d20000" d="M637.8 116l8.2-0.3 16 2.6 1.9 0.7 8 9 1.6 3 1.1 4-0.1 5-1.8 9-0.7 1.1-12 5.9-9 7.3-6 2.5-7.8 0.2-9.2-2-7-2.6-1-1.1-0.7-2.3-1.3-17 0.3-5 1.1-4 2.9-5 4.4-5 6.3-4.5 4-1.3zM677.9 172l1.1-0.4 0 74.2-17-2.4-5 0-6-1.4-6 0.9-4 1.7-4 2.9-3 2.9-5 6.8-3 3.1-3 2.1-3 0.9-4-0.1-5-1.7-1.9-2.5-1-4 0.5-17 0.8-10 0.9-4 2.7-4.4 7-6.3 9.4-4.3 8.1-6 5.2-5 2.3-5.4 11-12.3 5-2.9 9-1.4 7-3.5zM418.2 185l5.8-0.3 6 0.4 5 1.2 9 3.2 6 0.4 4.9 3.1 3.7 4 2.5 4 1.6 4 1.5 11-0.2 3-2.4 9-0.7 10 0.3 4 1.6 4 5.2 5.5 2 0.7 4-0.1 10-1.6 27-3 37-7.9 8 0.3 6 1.3 7.5 2.8 4.5 2.8 7.7 7.2 4.7 6 3.4 6 2.7 9 1.2 16-0.7 9 0.1 7-0.8 4-3.3 8-2 1.9-3 1-4-0.8-3.3-3.1-1.3-3-2.4-11.8-3.5-9.2-6.5-9.7-3-2.3-3-1-4-0.2-11 1.4-6.2 1.8-2.8 1.4-4 4.8-5 1.7-10-1-21.6 2.1-4.4 1.6-5 3.2-6 2.7-8.3 2.5-9 5-13.6 9-11.4 9-6.7 6.8-11 14.2-5.8 6-2.3 6-0.1 5 2 5 4.2 3.8 5 2.2 24 4.9 19 0 10 2.4 7 0.1 4-1.2 3.7-2.2 7.3-7.6 2-1.2 10-1.3 15-5.8 28-3.1 11-2.3 7-2.9 17-9.5 7-2 8-1.2 13-5.1 4-0.8 6 0.7 14 6 13 3.7 1.1 0.4 2.9 3 9 3.4 8 1.8 8 0.4 0 166.8-6-0.8-2 1.2-1.4 5.2-3.1 7-0.3 3 0.9 4 2.9 3.5 3 1.2 6 0 0 21.3-529.5 0 4.7-7 6.5-8 1.5-3 0.4-3-0.6-3-1.8-3-3.2-3-7-5.1-3-3.9-1.4-3-1.2-6 0.5-7 1.7-5 2.3-3 3.1-1.8 3-0.6 11 0.2 17 2.9 22 5.8 2-0.3 14-6.2 3.1-3 1.4-3 7.5-45 6-19.2 3.4-8.8 4.5-9 5.7-10 3.8-5 13.1-11 41.5-30.3 3.2-3.7 2.8-5.6 4-5.4 3-9.2 2-3.4 2-2.1 3-1.3 4-0.3 17 2.3 5 0.1 8-1.3 9-2.8 3-1.6 4.7-4.4 20.3-10.5 13.7-8.5 8-7 4.4-5 1.4-3 0.4-2-0.3-2-1.6-3-5.8-5-13.5-7-2.1-2-1.2-3 0.3-2 1.1-2 4.2-3.7 6-2.2 9-1.4 2-1 2-3.4 2.9-3.3 0-6 2.3-6-0.2-2-2.5-8-3.6-6-7.9-5.6-12-4.7-2.7-2.7-1.4-3-0.5-6 0.7-3 1.7-3 3.2-2.3 8-1.7z"/>
<path fill="#c60000" d="M636.9 123l7.1 0.6 4.8 2.4 6.2 5.4 5 8.6 0.2 4-2.1 5-3.1 3.4-5 3-5 0-7-2.3-8-4.8-3.4-4.3-0.7-2 0.1-2.5 2-6.9 3.3-5.6 2.7-2.6 2-1.2zM418.3 188l4.7-0.6 7 0.2 6.4 1.4 8.6 3.2 5-0.2 3 2 3.1 4 3.8 8-0.2 11-1.3 4-6.8 14-1.3 5-1.3 1.2-3-0.6-2-1.2-0.8-5.4-2.2-5.2-2.4-8.8-2.4-4-3.6-4-2.6-2.3-4-2.1-8-2.8-7-1.4-1.6-1.4-1.3-5 1.2-5 2.1-2 6.6-1.9zM653.2 197l2.8-0.9 11 3.2 12 2 0 37-13-0.2-20-3.9-3 0.1-6 2.1-4 2.8-4.2 4.8-4.9 8-2.9 2.8-2 0.7-1.9-0.5-3-3-1.2-4 0.1-12 1.3-7 1.7-4.4 4-3.5 12-3.3 6-3.3 6-5.5 6-8.7 3-3.1zM546.8 244l4.2-0.8 6 0.2 12 4.3 3.4 2.3 6.6 6 4.2 6 3.2 8 2.1 15-0.3 21-1.2 6-2 3.8-2 0.1-1.9-2.9-2.6-13-6-14-4.3-7-4.2-3.3-11-3-11-1.2-4 0.3-4 0.9-6 3.3-1-0.3-4.3-3.7-2.7-1-16 2-5.6 3-10.5 8-4.1 7-1.9 2-7.9 3.5-2-0.2-2-1.5-1 0.3-3.1 2.9-1.9 0.2-4-0.6-4 0.9-13 8.1-4 3.2-12.9 13.2-5.2 7-10.9 9.7-5 3.8-5.3 6.5-3.1 6-2.1 7-0.4 7 1.3 5 3.6 5.7 6 5.1 6 3.2 8 2.5 7 0.9 8 0.1 5-0.9 6-2.4 8 3.1 11 0.1 8-0.6 10-2 5-1.6 23-11.3 50-12.4 43.7-19.5 4.3-1 8-0.8 5 0.8 9 3.2 17 10.5 18.5 10.3 7.5 3.6 6 0.9 0 141.8-8 3.5-3 2.3-10.5 16.9-1.8 4-0.8 4 0.6 3 2.7 3 5.8 2.4 10 2.6 5 3.3 0 8.7-523.3 0 2.3-6.2 11.8-10.8 2-3 0.1-2-0.8-2-2.6-3-4.5-3-11-5.8-3-3-2-3.2-1.6-6 0.6-7 2-4.2 3-2.2 18 2.7 8.2 1.7 9.7 3 13.1 5.2 6 3.2 12 8.1 6.6 5.5 8.4 5.4 4 2 8 2.6 6 0.7 10-1.4 5-1.5 3.4-2.8 1.1-2 0.1-2-2.6-3.9-3-2.3-12.1-6.8-10.9-8.2-4.9-5.8-3.1-4.7-0.7-2.3-1.1-7-0.3-13 3.1-27.9 6-19.1 7-15.2 6-10.6 3-3.9 14.4-13.3 23.6-18.6 16.5-14.4 8.5-12.4 3.6-9.6 3.4-4.3 3-1.4 4-0.7 15 2.9 5 0.1 10-2 11-3.5 3.5-2.1 3-4 14.5-7.6 20-11.9 14-10.5 2.2-3 1.3-3 0.1-3-1.3-3-2.7-3-4.6-3.4-12.7-5.6-3.2-2-1.1-1.6-0.2-1.4 1.2-2.1 4-2 10-0.7 7-1.6 5 2.8 4 0.8 5-0.5 4-2.2 1.9-0.5 7.1-0.2 7 0.6 17-4.1 45-4.8 10-2 9-3.2z"/>
<path fill="#b90000" d="M638.8 136l3.2-0.8 2.9 1.8 1.1 3-1.2 3-2.8 1-3-1-1.9-3 0.9-3.3zM430.2 192l4.8-0.2 5 1 3.7 2.2 4.1 4 3.2 5.7 3.3 4.3 0.9 3-0.8 5-1.4 1.9-2 1.2-3 0.1-2-1.2-5-7.5-6.7-7.5-5.4-9-0.1-2 1.2-0.9zM622.3 232l2.7-1 1.7 1 0.7 2-1.4 2.9-2 0.8-2-0.8-0.8-1.9 0.8-2.7zM548.5 253l2.5-0.7 2 0.3 2 1.7 1 1.7 0.4 2-0.5 2-2.9 2.5-4 0.2-2-1-1.6-1.7-0.6-2 0.4-2 2.8-2.8zM479.9 259l1.1 0 1.1 1-0.4 2-1.7 0.6-1-0.6-0.4-1 0.4-1.3zM517.7 259l2.3-0.9 2 0.6 0.8 1.3-0.6 2-1.2 0.7-2 0.1-1.3-0.8-0.6-2zM497.8 264l1.2-0.6 2 0.3 0.9 1.3-0.6 2-1.3 0.8-2-0.4-0.9-1.4 0-1zM577.7 266l2.3 0.8 1.6 2.2 0 3-1.6 1.9-3-0.4-2.1-2.5 0.3-3 1.8-1.8zM437.7 268l2.3-0.9 3.2 0.9 1.9 2 1.9 4 0.8 3 0.3 6-0.6 4-1.4 3-2.1 1.7-2 0.7-1.9-0.4-0.7-1-0.2-3 2.6-6 0.4-3-1.2-2-4.3-4-0.4-2 0.7-2.2zM430.9 299l3.1-0.2 1.4 1.2 0.2 2-1.3 3-6.3 5.6-11 11.1-4 2.8-5 2.5-3 0.4-1.8-1.4-1.6-6-3.2-3 0.7-1 3.9-3 8.5-5 18.5-8.7zM376.3 332l3.7-0.1 3 1.1 0.9 2-0.6 4-1.9 5-4.5 7-6.2 7-3.7 6.6-5.8 5.4 0 2 3.1 7 4.7 5.6 4.8 8.4 5.1 7 9.1 6.7 15 5.9 27 7.6 12 1.3 14 2.5 11-1.3 5-1.2 3.6-2.5 0.3-1-1.4-4 0.5-1 10-5.6 6-5.4 8-5.2 6-2.5 6 0.4 14-3.8 21-2.8 1.9-1.1 14.5-13 5.6-3.9 11.6-6.1 8.4-3.7 22-7.3 8-0.4 7 1.4 28.6 17 12.4 6.6 7 3.2 6 1.9 0 120.7-3 2.4-5.8 7.2-10.5 11-8.1 11-3.7 6-2 5-0.8 4 0.8 11-0.2 7-390.2 0 1.5-1.5 7-4.6 13-15.1 2.6-3.8 1.1-5-0.6-4-2.1-4-3.2-3-8.3-6-6-7-6.1-13-1.2-4-1.4-17 1.2-6 2.3-7 0.2-3-0.7-4-2-6-1.3-10-1.5-5 2.6-10 3.9-7 2.5-6 6-6.7 4.3-7.3 4.7-5.3 17-13.7 10-9 6-6.3 14-16.7 4-11.4 3-3.4 4-1.7 4-0.3 12 3.6 4 0.3 24-6.1zM151.7 514l2.3-0.4 3.4 1.4 1.6 1.9 2 4 6-3.1 6 0 4.1 1.2 19.9 8.7 21 11.8 4.1 3.5 10.9 11.9 6 4.2 7 2.3 3.8 3.6 1.7 3-74.9 0 1.4-3 3-2.8 1.1-2.2 1.6-11-0.8-5-3.6-5-3.5-3-18.2-6-3.7-2-2.3-3-1.3-4-0.2-3 0.9-3.2z"/>
<path fill="#ac0000" d="M414.2 309l4.2 0 0.7 1-0.4 2-1.5 3-2.2 2.6-5 2.8-2 0.1-2-1.1-2-2.4-0.1-2 3.6-3 6.5-2.9zM332.7 338l3.3 0.1 6 2.4 9 2.7 4-0.6 5-2.1 13-2.5 2.2 0 0.9 1-1.3 2-5.8 2.3-5 3.8-9.4 13.9-4.6 3.3-2.6 8.7-1.4 2.5-2 1.2-4 0.1-2 2.2 0.1 2 0.9 1.4 7 4 5.3 4.6 2.7 3.4 2.5 4.6 2.2 8-0.1 4-1.4 8 0.5 3 1.3 2 3 2.2 3 1.1 18 1.6 18 3.3 7 1.8 11.6 4 9.4 2 11 1.4 11 0.1 9-0.7 6 1.5 21-1.1 3-0.7 2.5-1.5 1.5-1.9 4.6-11.1 4.8-8 3.6-4.1 4.8-3.9 6.2-3.2 8-2.3 20-3.2 7-1.7 3.3-3.6 4.7-2.5 1.7-1.5 0.4-1-0.9-4 2.2-2 18.6-11.4 4-3.2 5-1.4 8-3.6 7-2.3 5-0.2 4 2.9 11 1.6 8 2.6 7 3.1 37 19.4 0 52.1-1.2 0.4-0.8 1 1.2 3-4.2 1.9-1 1.1-2.4 6 1.5 4-0.8 4 0.4 4 3.1 8-2 16-9.6 17-26.2 34.6-7.6 8.4-4.9 7-2.9 7-334.2 0 2.4-24-0.6-8-1.2-4-2.1-4-12.3-16-4.6-8-2-9.8-1.4-12.2-2.6-12-0.7-9 0.3-8-1.5-8 0.2-5 7.4-22 2.5-12 1.6-3 2.2-2.2 19-14.1 8.6-8.7 4.4-5.5 7-11.7 4-4.1 7.5-5.7 0.4-1-0.9-5 1.2-4 1.8-1.8 4-1.1zM211.3 545l2.7 0 1.3 1 1.1 3-0.4 3.5-1 0.2-2.7-0.7-3.5-2-0.5-1 0.3-2 2.4-1.9z"/>
<path fill="#9f0000" d="M332.7 357l2.3-0.2 2.7 4.2 0.6 2-0.7 1-4.6 1.8-2.3 3.2-4.9 11-0.4 3 0.2 3 0.9 3 1.5 1.8 14 7.9 4 4.1 2 3.9 0.6 3.3-0.1 4-3 14-0.7 6 0.3 9 1.2 5 1.7 1.9 3 1.4 15 4.2 8 1 19-0.5 6 1 3 1.2 3.3 2.8 1.5 2 6.2 17 7.4 12 6.6 8 3 1.6 3-0.2 3-1.9 2.8-5.5 3.5-4 6-11 4.7-7 4-4 4-1.6 6 0.1 10 1.7 17 8 19 5.5 13-0.5 3-0.6 3-1.5 1.8-2.1 0.6-3-1-4-1.7-4-4.4-6-10.9-10-2.1-3-1.8-4-0.7-5 0.6-5 2.1-6 2.9-5 2.6-2.8 3-1.1 21-1.4 13.6-2.7 8.4-3.3 3-2.1 7-7 4.5-6.6 8.7-9 4.8-3.9 5-2.7 7-2.3 10-1.9 7-0.2 6 0.8 5 1.6 5.8 2.6 12.2 6.8 11 5.4 5.5 3.8 4.7 5 4.6 8 0.4 2-0.4 3-2.1 6-1.7 2.3-3 2.4-13 5.6-5 3.5-3.7 4.2-4.3 7.3-5.9 6.7-1.5 4 0.3 4 2.8 4 6.3 4 11 4.1 1.7 1.9 0.9 2 1.8 8 0.2 8-1.8 6-4.3 10-4.5 7.8-6.9 10.2-7.1 7.5-5 3.6-8 4.2-13.7 5.7-9.3 4.9-6 2-4 2.4-4 4.1-3.7 5.6-0.7 2-193 0 3.1-8-0.1-10-0.5-3-2.5-5-4.6-6.1-4-2.7-5-1.1-6 0.6-7 2.4-4 2.2-5 4.1-9 5.7-11.3 4.9-5.7 3.5-7 1.5-5 0.1-3 1-2-0.7-2.6-3.4-1.3-3-0.1-2.3 0.7-2.7 1.3-2.1 4-4.4 7-4.5 4-4.1 3.4-6.9 0.4-3-0.9-4-1.9-3.5-3-3.2-5-3.1-3-0.5-2 0.4-2 1.2-8.9 10.7-2.1 1.7-5 0.8-3-0.5-1.3-1-1-3 1.1-9-0.4-5-4.8-11-6.3-11-0.4-3 1.4-10-0.4-5-2.4-7-5-9-1.9-5-0.1-2 1.2-2 5.1-6 2.6-5 2.1-6 0.1-3-0.8-4-1.2-3-2.5-3 0-2 11.9-7.1 5-2.4 8.4-5.5 8.8-14 1.6-5 1.6-8 2.6-3.6 2-1.3 3-0.9 7 0.3 3-1.1zM326 452.9l-6 1.7-3 2.4-4.7 8-1 4-0.7 7 0.3 2 1.1 1.7 4 3.3 3 0.8 3-0.1 8-2.2 6.2-3.5 4.5-5 2.2-6-0.3-8-1.6-4.3-2-1.3-3-0.7-9 0.1z"/>
<path fill="#930000" d="M619.7 385l8.3-0.2 3 0.6 8.9 4.6 7.1 7.5 3 1.1 8 1.1 2 0.8 3 4 1.7 4.5-0.7 2.1-3.2 1.9-16.8 3.5-7 0.5-4-1.3-8-5-5-2.5-8-1-8-3.6-3-2.6-1.6-3-0.4-4 0.9-3 2.1-1.3 10-1 7-3.5zM545.7 433l7.3-0.3 14 3.3 4 2.7 14.1 13.3 1.1 2 0.7 3-0.1 4-1 4-1.8 4.1-2 2.7-2 1.6-3 1.1-3-0.1-3-0.9-10-5.9-3-0.6-6 0.1-3-0.7-3-1.7-2.6-2.7-8-11-2.2-5-0.5-4 0.7-3 2.6-3 3-1.5 6-1.4zM637.1 476l4.9 0.3 4 1.3 4 2.3 3 2.9 2 4.2-0.3 9-2.6 8-11.5 20-4.6 4-3 1.2-4 0.6-3-0.4-4-1.6-5.8-3.8-0.9-2-1.4-6-0.1-4 4.9-15 6.5-14 2.6-3 2.8-2 3.4-1.5 3-0.5zM472 487l3 0.2 13 4.5 8 0.4 6 1.7 12 1.7 11 2.3 6 2.7 8 6.1 8 2.8 3 2.2 2.2 3.4 1.1 6-0.5 5-2.6 12 0 9 1.5 7 4.9 14-132.7 0 0.6-4 2.6-5 1.2-4-0.4-6-0.9-3.6-2-2.4-2-0.9-5 0.8-1-0.8-1.6-6.1-3.4-2.3-4-4.6-5.2-4.1-2.8-3-1.6-3-1.2-6 0.1-3 0.8-2 1.9-1.7 3.7-1.3 10.3-1.3 5 0.8 14 4.4 5 0.4 6-0.7 3.3-1.6 4.7-5.4 9-8.1 10-6.2z"/>
<path fill="#860000" d="M552.5 445l4.5-0.9 7 0.5 3.2 1.4 4.8 4 2.2 4 0.3 3-2 4-2.7 2-3.8 0.8-4.7-0.8-8.3-2.6-5-3.3-1.7-3.1-0.1-3 1.8-3.3 4-2.5zM639.8 484l3.2 0.8 1.7 2.2 1.2 6 0 4-2.5 10-4.4 10.1-2 3.1-3 1.5-2-0.9-1.3-1.8-0.2-5 4.3-26 1.7-3 2.5-1zM482.3 503l1.7-0.6 1 0.2 5 2.8 8.6 3.6 9.4 7.1 3 1.6 7 0.7 2-0.7 5.8-3.7 5.2-1 3.7 1 3.8 3 1.1 3 0.2 3-3.3 12-2.3 13-0.6 14-1.1 6-78.5 0-1.2-6-0.6-13-2.5-8-3.3-5-4.4-5.2-9-6.4-9-5.1-11.1-4.3 1.1-1.2 6-0.2 17 6.6 6 1.3 3-0.1 5-1.3 3-1.8 9-9.9 4-0.7 8 1.5 2-0.1 5-5.8zM504 523.9l-7.7 2.1 0.1 1 2.6 1.5 5 0.1 3.4-1.6 2.5-3-0.9-1-4 0.7z"/>
<path fill="none" stroke="#000" stroke-width="1" shape-rendering="crispEdges" stroke-linejoin="round" d="M292 170.9l-3 0.8-2.1 1.3-1.7 2-1.1 3 0.2 2 2.3 3 2.4 1.4 2 0.1 2-0.6 3-2.4 1.8-2.5 1.1-3-0.2-2-1.6-2-2.1-1.1-2-0.1zM264 152l-5.6 1-1.3 1 0.2 4-1.2 3 0.1 1 2.2 4 3.1 4 9.9 10 3.2 4 8.4 3.8 6 0.8 5-1.7 5-3.9 7.9-12 6.3-7 1.6-4-0.1-2-1.7-1.2-3 0.1-11 3.8-8 0.6-15-7.3-5-1.3-6-0.8zM333 124.9l-1.9 1.1-1.4 2-1.1 3-0.2 2 1.7 6 3.5 6 3.6 4 10.5 8 6.3 2.7 4 0.6 2.1-1.3 0.7-2-0.1-2-1.7-5.9-3-5.6-5-6.1-9-9.1-4-2.6-4-0.9zM221 139.8l-1 0.3-0.4 0.9 0.6 2 12.7 19 8.1 9.6 14.1 13.4 2.2 3 2.7 1.9 3 0.9 7 1 8 0.4 8-0.4 4-0.9 5-2.6 5-3.9 10-12.3 7-7.1 2.9-4 0.9-2 0.2-3-0.5-2-1.5-2-3-1.8-5.4-1.2-4.6-3-3-1-17 0.6-6-0.7-4 0.1-8-3-0.5 2-3.1 1-4.4 0.1-18-1.6-20-3.7zM330 117.9l-2.7 1.1-2.3 1.7-4.4 6.3-2.6 2-2 0.1-7-1.5-1.6 0.4-6.4 3.4-12.1 2.6-5.9 0.3-12-0.9-36-4.9-4.1 0.5-5.9 4.1-8 1.9-3.3 6 4.3 10 15 19.6 9 10.4 3.2 5 3.8 3.7 4 3 9 4.6 6 1.5 6-0.4 14-4.2 5-2.5 8.9-6.7 19.1-17.6 4-2.7 6-3 5-1.3 4-0.1 3 1.1 6 3.7 6 1.4 4-0.7 2-1 1-1 1.6-4.8-0.4-5-2.2-6.9-4.2-8.1-15.8-18.6-2-1.4-2.7-1-5.3-0.3zM186 103.8l0.1 1.2 1.9 3 8 7.9 12.1 13.1 2 3 0.8 2-0.9 1-1 0-15-3.2-7-2.3-11-4.5-12-2.8-1.1 0.8 0.6 3 6.2 11 4.8 6 6.1 6 21.4 12.5 40 29.5 12 7.7 7 3.6 5 1.4 5 0.5 4-0.6 4-1.6 13-7.2 16.8-11.8 14.2-12.4 8-3.7 4-0.9 4 0.2 3 0.9 4.9 2.9 2.1 0.7 7 0.9 4-0.6 4-2.4 1.1-1.6 0.7-3 0.3-7-2.3-9-3.6-8-1.9-3-7-8-8.3-12.5-2-1.9-3-1.9-6-1.2-7 0.5-4 2.1-7.6 8.9-1.4 0.8-20 1.6-6-1.2-13-4.2-21.3-5-10.7-1.7-8-1.9-9-1.2-14-3.6-14-2.3-9-1zM120 102.5l2 0.7 2 1.5 13 13.3 21 18.7 14 8.3 7 6 5 3.3 16 9.1 14 10.2 12 8 18 13.8 15 9.6 8 2.9 7 0.7 4-0.7 3-1.1 8.8-7.8 20.2-13.2 13-10 8-3.8 4-0.7 3 0.2 4 1.2 5 2.6 3 0.9 8 1.4 4-0.3 3-2 2.6-3.3 0.9-4 0.3-6-0.5-6-1.5-6-1.9-5-3.5-7-7.8-9-10.6-17-6-5.3-5-2.2-5-0.7-4 0.9-6 3.9-5 5-2 0.8-12 1.1-18-0.6-5-0.7-3.5-1.2-14.6-7-11.9-4.8-10.7-5.2-24.4-10-24.9-8.4-17-6.7-39-13.1-0.4 1.2 0.5 1 1.9 2 28.7 23 3.6 4 8.7 6.6 11 10.2 15.3 16.2 4.7 6 1 2-3 0.1-6-1.1-17-6.5-13-4-9-3.9-13.8-7.6-9.2-3.8-11-7.6-2-0.8M120 56.2l3 1.5 5.5 5.3 12.5 9.4 9 7.8 8 6 4 4.3 9.5 7.5 5.4 6 2.2 3-1.1 0.7-3-0.1-2 0.4-3 2.9-2.4 1.1 1.3 2-0.9 0.8-3.7-0.8-13.5-5-6.8-3.7-10-4.3-11-7.5-3-1.1M120 104.8l3 1.8 13 13.5 20 18.5 14.8 8.4 12.2 10.7 15.9 9.3 13.1 10.6 4.4 1.4 7.6 4 19 14.8 10 6.2 6 4.6 9 4.7 7 1.5 5-0.5 3-1.1 4.3-3.2 3.7-7 3-2.8 16-8.9 13-8.4 6.1-2.9 4.9-1.7 4-0.3 3 1.1 8.6 5.9 6.4 5.9 2 1.1 2 0.3 3-0.6 3-2.3 2-3.2 1-2.6 1.1-4.6 1.2-9-0.3-11-0.8-5-1.8-6-4.7-10-8.8-10-8.9-15.4-5-7.6-4-4.8-3-2.7-2-1-3-0.6-5 0.6-3 1.2-4 2.4-9 7.5-2 0.5-4-0.9-20-6.1-20-7.1-29.8-9-8.2-1.8-10.9-3.2-7.1-3-14-7.6-24-12.2-7.5-4.2-1.9-2M318 211.8l-4 0.8-11 3.6-6 3.8-8 3.4-8 2.1-7 3.9-10 1.6-5 0.2-9-0.7-12 0.1-7-0.8-2.8-0.8-1.5-1-7.7-6.3-2-0.7-1 0.5-1 2.3-0.5 3.2 0.4 7 1.7 5 1.5 2 1.6 1 2.3 0.1 6-1.5 19-1.5 7 1.5 7 0.7 9 2.1 7 0.7 4-0.2 7-1.7 4-1.4 9.2-6.8 6.3-6 13.5-6.5 6-1.8 3-1.7 1.6-2 0.2-1-0.4-1-1.4-1.3-2-1-3-0.6-6 0.5zM120 59.6l1 0.4 5 4.9 5.1 4.1 3.5 4-0.4 1-1.2 0-4.8-4-2.5-1 0.2 1 4.9 6 1.3 3-2.1 0.9-3 2.4-2-0.1-5-1.3M120 197.9l6 3.2 10 7.9 18 17.3 18 14.3 10 6.8 10 5.2 4 1.3 4-0.1 18-2.9 13-3.6 6-0.7 4 0.1 8.7 1.3 7.3 2.5 2.9 2.5 1.2 5 0.9 1.5 2 0.8 2-0.1 4-1.2 14-6.9 19-13.6 13-6.2 6-1 6 0.3 4 1.1 6 2.9 14 3.1 2-0.3 2-1.4 4-5.1 2.5-4.9 1.8-8-0.2-10-1.2-10 0.8-2 3.6-4 2.7-4.5 1.7-4.5 1.1-5 0.9-10-0.5-10-2.3-10-3.9-9-2.7-4-8.3-9.5-4-6.7-4.9-9.8-1.5-4-2.3-11-0.9-2-1.4-1.3-3-1.5-6-1-5-0.2-7 0.7-13 2.1-22-3.7-5-2.4-5-3.4-8-3.6-31.4-16.7-20.6-9.5-1.7-1.5M120 252.9l3 1.2 33 18 5 1.9 6 1 5.8-1 47.2-15.8 12-2.1 3 0.2 2.6 0.7 2.3 2 0.7 3-0.8 6-1.9 8 0.1 8.3 5.1 10.7 5.9 8.3 2.6 2.7 2.9 2 21.1 12 5.4 1.9 8 0.8 3-0.6 4-1.4 2-1 1.9-1.7 1.1-2.4 0.7-3.6 0.1-3-0.5-2-2.3-3.1-3-1.5-5-0.7-14-0.7-5-1.4-3-2-6.5-7.6-1.5-3-0.7-3 0.3-3 0.7-2 5.2-8 6.5-5.6 13-9.6 11-9.3 8-5 5-2.2 5-1.5 4-0.1 5 1.2 8 4.1 7 0 14 1.5 2-0.4 2.1-1.1 3.7-3 2.2-2.5 4.1-7.5 1.7-8 0.4-6-1.3-17 0.5-2 4.5-10 1.8-7 1.1-10-0.4-9-0.8-6-1.3-5-3.8-9-2.3-4-8.3-10-4.9-9-3.8-9-0.7-3-0.4-5 1.8-10-0.5-4-1.4-1.6-2-1.1-6-1.4-5-0.4-10 0.6-3-0.4-12-4.2-14.4-3.5-8.6-2.8-6.6-3.2-10.3-6-6.1-5.4-7-4.9-1.5-1.7M120 284.6l15 3.8 16 5.2 6 1.2 3 0.1 4-1.3 13.9-6.6 16.1-5.7 10.3-8.3 6.7-4.1 5-1.4 4 0.1 2.3 1.4 1.7 2.5 5.2 14.5 1.9 4 5.6 8 4.4 4 1.9 5.4 3 4.5 13 8.4 17 9.5 7 3.3 7 2.6 7 0.7 3 1.4 2-1.6 1.6-4.2 4.4-8.1 2.1-6.9 0.7-10-1.8-8.7-1-2.4-3-3.9-3-1-5 1.9-8 0.9-8-0.2-6-1.7-4.4-2.9-2.8-3-0.7-4 0.8-4 2.4-4 2.7-3 21-18.3 6.1-4.7 8.9-4.6 6-1.5 4 0.1 4 0.9 7 3.8 3 1.1 14 0 7 1 2-0.3 3-1.3 5.3-4.2 1.8-2 1.9-3.2 2.8-5.8 0.8-3 1.4-11-1-21 4.5-16 1.4-11-0.8-12-2.4-10-4.7-10-8.1-10-1.9-6.2-4.6-9.8-1.2-5 0.1-5 1.4-5 4.3-6.6 5-4.4 0.8-2-0.4-3-1.4-1.6-2.3-1.4-8.7-2.8-5-0.6-14-0.1-4-1.2-7-4.2-9-7.1-9.2-8-2.2-3M120 312l6-0.5 14 0.1 18 3.4 13 3.3 4 0.1 6-1.1 6-2 4-2.8 2-2.5 4.3-10 3.6-6 6.1-5.5 3-1.6 3-0.5 3 0.9 4 2.3 10 9.8 6 4.1 3.1 3.5 1 2 0.5 3 3.4 4.9 20.5 13.1 10.5 10.6 1.9 1.4 11.1 2.3 4 0 8-1.2 7.2-5.1 2.8-4.4 3.2-6.6 3.7-11 0.8-9-0.7-5-1-3-8-9-2-1.5-4-1.9-3-0.2-6 1.2-4 0.2-11-0.3-3-0.9-1.8-1.6-0.9-3 0.2-3 1.4-3 2.3-3 21.8-19.9 5-3.1 7-3 6-1.3 5 0.5 3 1.1 7 3.8 3 0.7 14-0.4 9 1.4 5-1.8 6-5.4 3.1-4.6 3.7-9 1.5-11-0.1-13-0.8-13 4.6-22-0.6-15-2.1-9-4-9-1.8-3-7.4-9-4.4-18-0.4-4 1.3-4 2.4-2.7 6-2.7 10.1-3.6 5.9-4 3-4 1.6-4 0.3-3-1.2-3-2.6-4-2.1-1.6-3-1.1-7-2.1-5-0.8-7-0.5-10 0.5-3-0.8-3.6-2.6-3-3-6-8M120 339l14 0.3 13-4.5 4-0.6 2 0.6 7 4 6 2.7 10 1.9 7 2 7.5 0.6 0.7 1 1.2 7 1.7 5 3.3 6 3.6 8.1 1 1.4 1 0 1.4-4.5 0.9-9-1-21 2.7-5.6 1.6-7.4-0.4-4-2.8-11-0.3-6 1.1-3 2-3 2.8-2.2 3-0.9 4 0.7 3 1.5 5 4.4 4 5.2 5 2.4 3 2.4 3.2 5.5 18.2 12 10.6 14 3 3 3 1.9 3 1 5 0.6 5-0.3 11-3.3 5-2.6 4-1.1 1.5-1.2 1.2-2 7.5-18 2.8-5.4 3.2-9.6 0.4-4-0.1-12-1.9-7-1.6-2.7-4-3.1-10.5-4.2-6.5-3.4-2 0.1-2 1.1-2 3.3-2 1.4-8.6-0.5-1.4-1 1.9-3 14.5-17 3.6-2.6 5-2.3 6-1.3 4 0 5 1.1 9 4.2 18-0.2 5 1.7 2 0.1 6-1.6 4-2.1 3-3.2 4.2-5.8 4.1-10 1-5 0.8-14-1.7-23 4.3-20-0.1-10-1.1-8-3-9-4.1-8-7-8-1.2-2-1.2-9-0.1-8 1.1-3 2-1.8 12-3.4 8-2.8 5-2.9 1.7-2.1 2.1-7 4.2-10 1.4-8-0.2-5-2.7-8-0.1-5M120 395.2l20-0.6 16-3.2 6-2.3 9-6.2 4-1.2 3 0.1 2.5 2.2 3.3 5 0.7 3-0.5 4 2.6 4 4.4 5.3 5.4 2.7-0.5 9 1.1 3 2.3 2 2.7 1.4 2 0.1 2-1.3 5.4-7.2 2.6-9 2.9-29 1.4-30 0.7-3 2.5-5 0.7-3-0.6-5-5.6-10.3-2-5.7-0.2-2 0.6-2 2.6-2.2 3-0.3 4 1.6 3.8 3.9 5.1 4 13.1 6.9 8 6.1 3.1 4 4.3 9 2.9 5 4.7 5.3 2.9 1.7 9.1 1.9 6-0.7 14-5.7 12.8-7.5 1.2-2 1.4-6 4-11 8.7-16 2.2-5 2.9-9 0.4-5-2.9-10-1.9-4-1.5-2-5.3-4.5-5-3.3-12.8-5.2-1.2-1.2 0-1.8 1-1.3 2-1.2 5-1.1 5.7 0.6 13.3 4.5 17-0.6 7 1.1 11-1.5 2-0.8 2.3-1.7 8.7-12 2.2-4 2.5-7 1.4-10 0-7-0.7-7-2-7-1.1-12 1.4-8 3.4-10 1.7-7 0.4-9-1-4-2.1-5-5.1-7.9-7-14.1-0.5-3 0.8-3 1.7-1.8 2-0.8 11-2.1 8-2.1 5-2.5 4.1-2.7 5.5-6 2.9-4 4.5-12.1 4.2-7.9 2.8-2.7 8-4.1 3-1 3-0.3 16 0.1 15 2.1 11 2.6 2-0.2 3-1.2 3.5-3.3 1.5-4 0.3-8-2.1-6M608.2 51l3.4 6-1.2 4 0.7 3 2.8 2 5.1 0.4 3-0.2 3-1.2 14.4-8 1.7-2 0.2-4M120 552.7l5 0.2 3.7-0.9 4.3-2.3 2.4-2.7 0.5-3-3.2-11-1.5-11 0.6-9 1.9-7 4.8-11 10.9-14 6.4-10 9.2-12 4-2.9 10-2.8 4-0.3 12 1.3 5-0.8 4-1.4 3-2.1 5-5.1 3-4 3.4-5.9 6.6-18.7 1.3-18.3 4.7-31.8 2-5.5 2.8-2.7-1.3-8 0.2-9-2.2-8-3.6-8-0.3-2 0.4-1 1-0.3 2.1 0.3 9 5 5.9 5.8 2 3.2 0 3.4-3.3 10.6-1.3 7-1.4 1.6-2.6 1.4-0.8 1 0.4 1.3 0.9 0.7 1.1-0.1 4.2-1.9 1.8-0.1 4 0.9 7 2.8 5 1.1 4 0.3 9-0.8 5-1 8-2.9 16-8.6 1.5 0.3 1.5 2.8 1-0.2 1-1.2 1.6-4.4 4.3-5 1.1-2 0.1-5 0.9-4.2 3-8.3 4-7.3 4-5.3 5-5.5 11-9.8 4.9-7.6 2.1-1.7 5-1.6 10-0.5 4 0.7 3.8 2.1 2.2 3 0.7 4-1.1 4-3.4 6-0.2 2 1.2 1 4.7 2 4.1 0.4 3.9-1.4 5.1-5 4.6-3 0.5-1-1.3-4-0.3-3 0.7-3 1.8-3 0.1-1-0.5-1-9.6-11-4-2.9-11-5.6-1.9-2.5-0.5-2 0.8-3 2.6-5.2 9.7-10.8 3.5-5 3.1-7 1.4-7-0.9-6-3.8-9.3-2.1-6.7-1.4-14 0.5-4.3 4.3-8.7 3.2-9 0.9-5 0.2-5-1.6-8-5-8.6-1.5-3.4-0.7-3 0.3-3 0.9-1.3 1.4-0.7 20.6-4.2 19-6.4 3-2.3 6.2-6.1 10.1-11 2.7-1.7 10.8-2.3 22.2-3.7 7-1.5 2-1 4-5 4.5-9.8 0.5-4 0.1-18M554.4 51l6.1 6 4.9 14 5.4 8 2.7 3 8.5 6.1 4 2.2 11 2.9 5 0.5 13-1.4 12-5.8 12-10.3 11-11.8 5-4.6 4-3.2 6.1-3.6 2.1-2M120 566l6-4.3 11-3 6.9-2.7 4.2-3 2.1-3 0.3-3-1.1-3-5.4-6.9-3.6-6.1-1.5-8 0.3-9 0.9-5 1.6-5 3.3-7.5 2-2.5 4.1-4 4-3 8.9-4.8 4-1.5 11 0.7 6 1.3 15 0.3 1-1 1 0 0.5-1 2.4-2 8.1-5.4 3-3 4-7.2 3-7.1 6.2-20.3 3.8-15.9 3-9.5 5-10.6 4.3-7 2.7-3.1 4.8-3.9 5-3 6.2-3 18-7.4 20-12 2-0.7 4 0.2 2.2-1.1 2.6-3 1.9-5 4-5 1.7-3 0.7-3 0.2-5 2.7-7.6 3-3.8 3-2.1 4-0.7 5 1 4-1.2 5 2.1 11 2.3 3 0.3 3-0.4 9-2.8 16.4-7.1 3.2-2 2.4-3 5-1.1 5.4-2.9 5.6-4 3-3 2.3-5 0.6-4-0.9-1.5-2-1.1-1.4-1.4-0.6-2 0.5-3-0.4-1-4.7-4-10.7-6-4.2-3-1.5-2.4-1.4-5.6 0.4-3 2-3 13-10.8 2.8-3.2 3.6-6 1.3-5-0.4-3-1.7-3-11.6-9.6-5.5-6.4-2.2-4-2-15 1.1-2 5.7-6 3.9-1.8 6-0.9 13-0.4 12 1.1 8 3 22.6 12 4.9 5 6.5 10 1.5 3 1.6 7-0.2 10 1.1 5-0.1 5 1.1 1.9 1 0.5 4 0.4 10 0 12.5-2.8 4.5-1.8 8-5.4 10-5.4 4-1.1 9-0.8 6.4 2.5 4.3 1 22.3 3.7 4 2.6 11 11.8 2 0.9 0.9-1 1.5-7-0.1-4-1.7-6-1.3-2-1.3-1-4-0.8-15 0.7-6-1.3-3-2.1-13-13-4-3.2-10.2-6.3-4.9-2-7.9-2.3-3-1.5-5-3.6-3-0.5-3-1.1-8-5.8-2.5-3.2-1.7-7 1.1-5 2.5-5 1.6-1.3 6.6-3.7 4.1-5 0.9-3 0.4-7.5 1-4.5 2.8-9 4.7-12 2.1-9-0.3-4-1.7-6-6.6-12.7-6-23.2 0-4.1 2.9-5M635.9 126l4.1-0.7 5 1 4.9 3.7 4 5 2.8 5 0.7 4-1.6 5-3.8 3.4-2 1-2 0.1-7-1.8-7-4.2-3.4-3.5-1.6-4 0.1-4 2.7-6 3.2-3.4zM418.3 189l8.7-0.9 6 0.7 5 1.3 8 3.1 4-0.2 1.7 1 1.8 2 5.4 10 0.3 4-0.4 6-1.7 5-4.1 6.8-2 2.3-3 1.6-2-0.6-2.4-2.1-4.6-11.7-3.5-4.3-4.5-4.5-7.1-4.5-2.9-2.5-5 0.2-4-0.6-1-0.9-1-4.2 1-3.4 1.7-1.6 5.3-1.9zM679 213.9l-5 2.4-5 0.8-3-0.2-2.8-0.9-1.9-1-0.4-1 1.7-2 2.4-1.6 9-3.4 2-0.3 3 0.8M642.1 219l1.9-0.5 2.2 1.5 0.5 1-0.7 2-4 3.1-7 7.1-9.4 11.8-3.8 6-1.8 1.7-1 0.3-1-0.1-2-1.5-1-1.6-0.6-2.8 0-12 1.1-5 1.5-3.8 2-2.2 2-1 17-2.7 4-1.3zM392 324.9l-2.3 1.1-0.2 1 1.5 0.9 1 0 2-1.9 0.1-1-1.1-0.2zM679 512.4l-9 5.2-3.6 3.4-6.9 10-4.3 7-2.2 5-0.8 4 0.8 3 1.2 2 1.8 1.7 5 1.8 10 2.3 2.4 1.2 2 3 2.2 6M157.6 568l0.7-4 1.7-2.8 12.6-9.2 2.1-3 0.5-2-1-3-4.2-4-3.3-2-12.7-5.9-2.5-2.1-2.3-3-2.1-6 0.1-6 0.8-3 1-2 1.9-2 1.1-0.4 24 4.5 6.9 1.9 8.1 3.1 10 4.6 14 8.8 8.5 6.5 10.5 7.2 4 2 9 3.4 6-0.3 13-3.5 4-2.3 3.7-3.5 0.5-1 0-2-3.7-5-15.8-10-11.7-9.9-4-7.1-3.7-9-0.9-15 0.7-9 2.9-18.9 5-16 7-16 7-11.9 6-5.1 9.4-10.1 25.6-20.5 8-6.9 6.7-6.6 7.8-11 2-4 2.3-7 3.2-3.8 3-1.4 4-0.7 5.9 0.9 8.1 2 6 0.2 9-1.9 13-4 3.7-2.3 1.4-3 1.1-1 13.8-7.3 20-11.9 7.5-4.8 7.9-6 2.1-3 1.4-4-0.1-2-1.1-3-2.5-3-4.2-3.4-16.6-7.6-1.4-2 0-1 2-2.1 3-0.6 6 0.3 12 2 19-0.4 3-0.8 3-2.4 2-0.3 4 0.9 2-0.1 15-5.2 27-2.2 11-1.5 13-0.8 6-1.6 11-4.7 4-0.4 5 0.4 9.3 3.5 4.7 3 7.5 7 4.5 7.6 1.6 5.4 1.3 11 0.7 12-0.2 10-0.4 3.1-2 5-1 0.7-1-0.7-2-4.8-1.2-7.3-4.2-12-4.9-9-3.7-3.8-3-1.7-4-1.3-19-3.6-15-1.5-10 0.6-5 0.7-10 3.4-9.7 2.2-8.5 3-8.8 4.5-7 2.9-12 8.1-11 8.9-27 27.1-15.1 11.5-9.1 8-0.5 4-1.7 5-2.3 12 0 5 3.3 10 1.2 2 3.6 3 3.6 4 4 2.6 8 0.2 5.4 1.2 3.2 1 4.4 2.6 4 1.4 2 1.8 1.6 0.2 0.4 0.7 5 0.3 3-2 1 0 1-1 0 2 1 1 2 0 4.3-5 4.7-2.7 15-2.2 13-2.7 27-10.9 12-2.5 10.3-5 28.7-8 41.1-19 3.9-1.4 5.4-0.6 6.6 0.1 11.7 3.9 17.3 10.8 21.6 12.2 5.4 2.4 5 0.7M553.7 445l4.3-0.6 6 0.5 3 1.4 4.6 3.7 2.2 4 0.2 3-2.1 4-3.2 2-4.7 0.4-7-1.8-5-2-3.7-2.6-1.6-3-0.2-2 0.5-1.8 2.5-3.2 3.5-1.8zM637 485l2-0.7 2 0 1.9 0.7 1 1 1.3 4 0.6 5-0.6 4-2.4 9-4 9-1.8 2.9-2 1.3-2-0.2-1.9-2-0.5-2 3.2-23 1-5 1.2-3zM454.9 568l-1.3-6-0.7-13-2.1-7-2.2-4-5.6-7-2-1.7-8-5.7-4-1.7-5-3.6-4.4-1.3-2.7-2 1.1-0.7 2-0.2 2.4 0.9 2.6 1.7 5.9 1.3 5.1 2.6 7 1.4 2 0 5-1.1 3-1.3 3.1-2.6 5.9-6.5 3-1.2 6.7 1.7 6.5 4 4.1 6 5.9 7 4.6 3 5.2 1.8 5.4-0.8 4.8-2 5.1-4 10.8-10 1.9-1.1 3-1 3-0.2 2 0.6 2.8 1.7 1.9 3 0.4 4-3.9 12-2.1 15-0.4 12-1.3 6"/>
<path d="M194.5 57 V564M265.3 57 V564M336.1 57 V564M407.0 57 V564M477.8 57 V564M548.6 57 V564M619.4 57 V564M127 106.2 H675M127 191.1 H675M127 275.9 H675M127 360.7 H675M127 445.6 H675M127 530.4 H675" stroke="#d6d0d0" stroke-width="1" stroke-dasharray="2 5 1 5" fill="none" shape-rendering="crispEdges"/>
<path d="M375.0 508.0 L385.0 506.3 L400.0 507.0 L405.0 508.3 L400.0 510.0 L387.5 509.5ZM350.2 144.6 L351.2 146.5 L350.6 148.6 L349.8 146.6ZM461.9 167.0 L463.5 170.0 L462.5 175.0 L460.6 170.7ZM532.0 56.5 L533.8 63.8 L532.0 70.0 L530.2 63.8ZM316.9 198.5 L320.0 199.5 L317.5 200.6 L315.0 199.6ZM346.5 228.5 L347.3 229.3 L346.5 230.0 L345.7 229.3Z" fill="none" stroke="#000" stroke-width="1" shape-rendering="crispEdges"/>
<path fill="#fff" d="M120.0 50.0 L358.8 50.0 L358.8 65.0 L350.0 65.0 L350.0 72.0 L332.5 72.0 L332.5 79.0 L323.8 79.0 L323.8 86.0 L316.0 86.0 L316.0 93.0 L307.5 93.0 L307.5 146.0 L298.8 146.0 L298.8 161.0 L290.0 161.0 L290.0 221.0 L281.2 221.0 L281.2 229.4 L229.4 229.4 L229.4 236.9 L212.5 236.9 L212.5 244.4 L203.0 244.4 L203.0 251.9 L186.2 251.9 L186.2 259.0 L177.5 259.0 L177.5 274.0 L168.8 274.0 L168.8 288.8 L160.0 288.8 L160.0 303.0 L151.2 303.0 L151.2 387.0 L143.8 387.0 L143.8 410.0 L135.0 410.0 L135.0 433.8 L142.5 433.8 L142.5 455.0 L133.8 455.0 L133.8 470.0 L120.0 470.0Z"/>
<rect x="128.75" y="560.5" width="12.5" height="2.5" fill="#fff"/>
<clipPath id="land"><path d="M120.0 50.0 L358.8 50.0 L358.8 65.0 L350.0 65.0 L350.0 72.0 L332.5 72.0 L332.5 79.0 L323.8 79.0 L323.8 86.0 L316.0 86.0 L316.0 93.0 L307.5 93.0 L307.5 146.0 L298.8 146.0 L298.8 161.0 L290.0 161.0 L290.0 221.0 L281.2 221.0 L281.2 229.4 L229.4 229.4 L229.4 236.9 L212.5 236.9 L212.5 244.4 L203.0 244.4 L203.0 251.9 L186.2 251.9 L186.2 259.0 L177.5 259.0 L177.5 274.0 L168.8 274.0 L168.8 288.8 L160.0 288.8 L160.0 303.0 L151.2 303.0 L151.2 387.0 L143.8 387.0 L143.8 410.0 L135.0 410.0 L135.0 433.8 L142.5 433.8 L142.5 455.0 L133.8 455.0 L133.8 470.0 L120.0 470.0Z"/></clipPath>
<path clip-path="url(#land)" d="M194.5 57 V564M265.3 57 V564M336.1 57 V564M407.0 57 V564M477.8 57 V564M548.6 57 V564M619.4 57 V564M127 106.2 H675M127 191.1 H675M127 275.9 H675M127 360.7 H675M127 445.6 H675M127 530.4 H675" stroke="#9c9c9c" stroke-width="1" stroke-dasharray="2 5 1 5" fill="none" shape-rendering="crispEdges"/>
<path d="M125.0 145.0 L132.5 149.4 L142.5 149.4 L148.8 152.5 L163.8 152.5 L166.2 150.0 L162.5 146.2 L163.0 144.4 L170.6 136.2 L175.0 138.0 L182.0 143.0 L188.8 142.5 L193.8 136.2 L205.0 130.6 L213.8 128.0 L220.0 124.4 L222.5 121.2 L230.0 118.8 L238.0 115.6 L244.4 118.0 L252.5 116.0 L260.0 119.4 L268.8 121.2 L277.5 125.0 L283.8 130.0 L288.0 136.2 L290.0 142.5 L290.0 153.8 L283.5 155.3 L285.0 161.0 L288.0 164.4 L292.5 167.0 L289.4 170.0 L287.5 175.0 L287.5 185.0 L286.2 193.8 L283.8 203.8 L282.5 212.5 L280.0 218.0 L275.0 222.0 L265.0 223.5 L250.0 225.0 L237.5 225.0 L225.0 226.9 L215.0 228.8 L208.8 232.0 L200.0 237.5 L193.8 241.2 L193.0 247.5 L187.5 252.5 L183.8 257.5 L181.2 260.0 L176.2 265.0 L170.0 270.0 L165.0 276.2 L160.6 282.5 L156.2 288.8 L153.8 296.2 L152.0 303.0 L145.0 304.4 L142.5 310.0 L143.0 317.5 L146.2 325.0 L147.5 328.8 L142.5 334.0 L145.6 341.2 L147.0 348.8 L148.0 357.5 L146.2 367.5 L142.5 376.2 L140.0 387.5 L136.2 397.5 L135.0 403.8 L133.8 412.5 L136.2 425.0 L138.8 435.0 L137.5 442.5 L132.5 452.5 L125.0 460.0M135.0 403.8 L125.0 403.8M280.0 90.0 L282.0 96.2 L285.0 99.4 L287.5 100.6 L280.0 108.8 L281.2 111.2 L285.0 116.2 L290.0 111.2 L296.2 115.6 L302.0 113.0 L300.0 120.0 L303.0 128.8 L302.5 136.2 L300.0 143.8 L297.5 151.2 L296.2 155.0 L290.0 154.4M280.0 108.8 L289.4 100.0 L301.2 90.0 L317.5 79.4 L330.0 70.0 L340.0 62.0 L347.5 57.0 L350.0 55.6M283.8 55.6 L282.0 66.2 L280.0 73.8 L278.8 77.0 L278.8 91.2 L280.6 97.0 L285.0 98.0 L289.4 97.5M291.2 55.6 L292.0 66.2 L293.0 73.0 L297.5 78.0 L297.5 83.8 L300.0 87.5M310.0 70.0 L312.0 65.0 L315.6 62.5 L321.2 61.2 L325.0 64.4 L328.0 60.6 L328.0 57.0 L330.6 57.0 L331.2 60.6 L327.5 63.8 L322.5 71.0 L317.5 77.0 L313.8 74.4 L310.0 70.0M214.4 227.5 L215.6 220.6 L208.8 218.0 L201.2 215.0 L200.6 207.5 L205.0 201.2 L211.2 197.5 L206.2 193.8 L200.0 191.2 L193.8 191.2 L190.0 189.4 L186.2 192.5 L180.0 197.5 L176.2 205.0 L178.8 212.5 L185.0 217.5 L186.9 225.0 L185.0 231.2 L178.8 233.0 L171.2 236.2 L167.5 242.5 L165.0 251.2 L167.5 251.2 L173.8 247.5 L178.8 242.5 L181.9 240.0 L187.5 241.2 L191.2 243.8 L193.0 247.5 L190.0 251.2 L186.2 253.0M191.2 234.4 L193.8 240.6 L200.0 237.5 L208.8 231.9 L212.5 229.4 L203.8 231.2 L191.2 234.4M165.0 251.2 L163.0 258.0 L162.0 266.2 L160.0 275.0 L158.8 282.0 L165.0 275.0 L172.5 267.5 L177.5 263.8 L183.0 258.0 L186.2 253.0" fill="none" stroke="#000" stroke-width="2.3" stroke-linejoin="round" stroke-linecap="round"/>
<path d="M289.4 97.5 L293.8 93.0 L301.2 87.5 L307.5 84.0 L313.8 78.0 L322.5 74.0 L330.0 68.5 L340.0 61.0" fill="none" stroke="#000" stroke-width="1.5" stroke-linejoin="round" stroke-linecap="round"/>
<rect x="373.1" y="108.2" width="24" height="12" fill="#fff"/>
<text x="385.1" y="118.8" font-size="11" text-anchor="middle" textLength="20.4" lengthAdjust="spacingAndGlyphs">16.5</text>
<rect x="347.6" y="158.3" width="24" height="12" fill="#fff"/>
<text x="359.6" y="168.9" font-size="11" text-anchor="middle" textLength="20.4" lengthAdjust="spacingAndGlyphs">11.5</text>
<rect x="326.4" y="153.0" width="14" height="12" fill="#fff"/>
<text x="333.4" y="163.6" font-size="11" text-anchor="middle" textLength="11.3" lengthAdjust="spacingAndGlyphs">12</text>
<rect x="347.6" y="172.0" width="24" height="12" fill="#fff"/>
<text x="359.6" y="182.6" font-size="11" text-anchor="middle" textLength="20.4" lengthAdjust="spacingAndGlyphs">12.5</text>
<rect x="353.0" y="176.5" width="14" height="12" fill="#fff"/>
<text x="360.0" y="187.1" font-size="11" text-anchor="middle" textLength="11.3" lengthAdjust="spacingAndGlyphs">13</text>
<rect x="347.6" y="186.2" width="24" height="12" fill="#fff"/>
<text x="359.6" y="196.8" font-size="11" text-anchor="middle" textLength="20.4" lengthAdjust="spacingAndGlyphs">13.5</text>
<rect x="408.0" y="169.3" width="24" height="12" fill="#fff"/>
<text x="420.0" y="179.9" font-size="11" text-anchor="middle" textLength="20.4" lengthAdjust="spacingAndGlyphs">17.5</text>
<rect x="439.2" y="231.0" width="14" height="12" fill="#fff"/>
<text x="446.2" y="241.6" font-size="11" text-anchor="middle" textLength="11.3" lengthAdjust="spacingAndGlyphs">18</text>
<rect x="563.0" y="221.0" width="24" height="12" fill="#fff"/>
<text x="575.0" y="231.6" font-size="11" text-anchor="middle" textLength="20.4" lengthAdjust="spacingAndGlyphs">17.5</text>
<rect x="542.5" y="236.5" width="14" height="12" fill="#fff"/>
<text x="549.5" y="247.1" font-size="11" text-anchor="middle" textLength="11.3" lengthAdjust="spacingAndGlyphs">18</text>
<rect x="611.8" y="251.5" width="14" height="12" fill="#fff"/>
<text x="618.8" y="262.1" font-size="11" text-anchor="middle" textLength="11.3" lengthAdjust="spacingAndGlyphs">18</text>
<rect x="516.5" y="260.2" width="14" height="12" fill="#fff"/>
<text x="523.5" y="270.9" font-size="11" text-anchor="middle" textLength="11.3" lengthAdjust="spacingAndGlyphs">18</text>
<rect x="270.2" y="239.4" width="24" height="12" fill="#fff"/>
<text x="282.2" y="250.0" font-size="11" text-anchor="middle" textLength="20.4" lengthAdjust="spacingAndGlyphs">13.5</text>
<rect x="335.7" y="235.8" width="14" height="12" fill="#fff"/>
<text x="342.7" y="246.4" font-size="11" text-anchor="middle" textLength="11.3" lengthAdjust="spacingAndGlyphs">15</text>
<rect x="330.7" y="240.8" width="24" height="12" fill="#fff"/>
<text x="342.7" y="251.4" font-size="11" text-anchor="middle" textLength="20.4" lengthAdjust="spacingAndGlyphs">14.5</text>
<rect x="330.7" y="247.3" width="24" height="12" fill="#fff"/>
<text x="342.7" y="257.9" font-size="11" text-anchor="middle" textLength="20.4" lengthAdjust="spacingAndGlyphs">15.5</text>
<rect x="330.7" y="254.3" width="24" height="12" fill="#fff"/>
<text x="342.7" y="264.9" font-size="11" text-anchor="middle" textLength="20.4" lengthAdjust="spacingAndGlyphs">16.5</text>
<rect x="370.2" y="307.0" width="14" height="12" fill="#fff"/>
<text x="377.2" y="317.6" font-size="11" text-anchor="middle" textLength="11.3" lengthAdjust="spacingAndGlyphs">17</text>
<rect x="338.8" y="320.4" width="24" height="12" fill="#fff"/>
<text x="350.8" y="331.0" font-size="11" text-anchor="middle" textLength="20.4" lengthAdjust="spacingAndGlyphs">17.5</text>
<rect x="343.8" y="330.6" width="14" height="12" fill="#fff"/>
<text x="350.8" y="341.2" font-size="11" text-anchor="middle" textLength="11.3" lengthAdjust="spacingAndGlyphs">18</text>
<rect x="278.7" y="320.4" width="24" height="12" fill="#fff"/>
<text x="290.7" y="331.0" font-size="11" text-anchor="middle" textLength="20.4" lengthAdjust="spacingAndGlyphs">14.5</text>
<rect x="283.5" y="330.8" width="14" height="12" fill="#fff"/>
<text x="290.5" y="341.4" font-size="11" text-anchor="middle" textLength="11.3" lengthAdjust="spacingAndGlyphs">15</text>
<rect x="278.4" y="339.2" width="24" height="12" fill="#fff"/>
<text x="290.4" y="349.8" font-size="11" text-anchor="middle" textLength="20.4" lengthAdjust="spacingAndGlyphs">15.5</text>
<rect x="274.0" y="345.0" width="14" height="12" fill="#fff"/>
<text x="281.0" y="355.6" font-size="11" text-anchor="middle" textLength="11.3" lengthAdjust="spacingAndGlyphs">16</text>
<rect x="270.2" y="353.0" width="24" height="12" fill="#fff"/>
<text x="282.2" y="363.6" font-size="11" text-anchor="middle" textLength="20.4" lengthAdjust="spacingAndGlyphs">16.5</text>
<rect x="266.4" y="360.5" width="14" height="12" fill="#fff"/>
<text x="273.4" y="371.1" font-size="11" text-anchor="middle" textLength="11.3" lengthAdjust="spacingAndGlyphs">17</text>
<rect x="430.0" y="392.0" width="14" height="12" fill="#fff"/>
<text x="437.0" y="402.6" font-size="11" text-anchor="middle" textLength="11.3" lengthAdjust="spacingAndGlyphs">18</text>
<rect x="192.0" y="419.0" width="24" height="12" fill="#fff"/>
<text x="204.0" y="429.6" font-size="11" text-anchor="middle" textLength="20.4" lengthAdjust="spacingAndGlyphs">16.5</text>
<rect x="188.1" y="449.6" width="14" height="12" fill="#fff"/>
<text x="195.1" y="460.2" font-size="11" text-anchor="middle" textLength="11.3" lengthAdjust="spacingAndGlyphs">17</text>
<rect x="183.1" y="477.9" width="24" height="12" fill="#fff"/>
<text x="195.1" y="488.5" font-size="11" text-anchor="middle" textLength="20.4" lengthAdjust="spacingAndGlyphs">17.5</text>
<rect x="240.1" y="543.8" width="14" height="12" fill="#fff"/>
<text x="247.1" y="554.4" font-size="11" text-anchor="middle" textLength="11.3" lengthAdjust="spacingAndGlyphs">18</text>
<rect x="451.3" y="502.4" width="24" height="12" fill="#fff"/>
<text x="463.3" y="513.0" font-size="11" text-anchor="middle" textLength="20.4" lengthAdjust="spacingAndGlyphs">18.5</text>
</g>
<g font-size="19" style="font-family:'DejaVu Sans Light','DejaVu Sans','Liberation Sans',sans-serif;font-weight:200">
<text x="147.0" y="109.5" textLength="10.5" lengthAdjust="spacingAndGlyphs" style="fill:#000;stroke:#000;stroke-width:0.45;font-family:inherit">Z</text>
<text x="175.8" y="109.5" textLength="14.2" lengthAdjust="spacingAndGlyphs" style="fill:#000;stroke:#000;stroke-width:0.45;font-family:inherit">=</text>
<text x="207.0" y="109.5" textLength="33.0" lengthAdjust="spacingAndGlyphs" style="fill:#000;stroke:#000;stroke-width:0.45;font-family:inherit">2.5</text>
<text x="256.0" y="109.5" textLength="18.5" lengthAdjust="spacingAndGlyphs" style="fill:#000;stroke:#000;stroke-width:0.45;font-family:inherit">m</text>
</g>
<rect x="124" y="55" width="551" height="509" fill="none" stroke="#000" stroke-width="2"/>
<text x="124.5" y="579.5" font-size="12.5" text-anchor="middle" textLength="24.0" lengthAdjust="spacingAndGlyphs">28.5</text>
<text x="195.3" y="579.5" font-size="12.5" text-anchor="middle" textLength="12.5" lengthAdjust="spacingAndGlyphs">29</text>
<text x="266.1" y="579.5" font-size="12.5" text-anchor="middle" textLength="24.0" lengthAdjust="spacingAndGlyphs">29.5</text>
<text x="336.9" y="579.5" font-size="12.5" text-anchor="middle" textLength="12.5" lengthAdjust="spacingAndGlyphs">30</text>
<text x="407.8" y="579.5" font-size="12.5" text-anchor="middle" textLength="24.0" lengthAdjust="spacingAndGlyphs">30.5</text>
<text x="478.6" y="579.5" font-size="12.5" text-anchor="middle" textLength="12.5" lengthAdjust="spacingAndGlyphs">31</text>
<text x="549.4" y="579.5" font-size="12.5" text-anchor="middle" textLength="24.0" lengthAdjust="spacingAndGlyphs">31.5</text>
<text x="620.2" y="579.5" font-size="12.5" text-anchor="middle" textLength="12.5" lengthAdjust="spacingAndGlyphs">32</text>
<text x="116.7" y="110.8" font-size="12.5" text-anchor="end" textLength="24.0" lengthAdjust="spacingAndGlyphs">45.5</text>
<text x="116.7" y="195.6" font-size="12.5" text-anchor="end" textLength="12.5" lengthAdjust="spacingAndGlyphs">45</text>
<text x="116.7" y="280.4" font-size="12.5" text-anchor="end" textLength="24.0" lengthAdjust="spacingAndGlyphs">44.5</text>
<text x="116.7" y="365.2" font-size="12.5" text-anchor="end" textLength="12.5" lengthAdjust="spacingAndGlyphs">44</text>
<text x="116.7" y="450.1" font-size="12.5" text-anchor="end" textLength="24.0" lengthAdjust="spacingAndGlyphs">43.5</text>
<text x="116.7" y="534.9" font-size="12.5" text-anchor="end" textLength="12.5" lengthAdjust="spacingAndGlyphs">43</text>
<path d="M123.7 564 v4M194.5 564 v4M265.3 564 v4M336.1 564 v4M407.0 564 v4M477.8 564 v4M548.6 564 v4M619.4 564 v4M124 106.2 h-4.5M124 191.1 h-4.5M124 275.9 h-4.5M124 360.7 h-4.5M124 445.6 h-4.5M124 530.4 h-4.5" stroke="#000" stroke-width="1" fill="none"/>
<text x="74.4" y="42.2" font-size="26" stroke="#fff" stroke-width="0.5" textLength="80.8" lengthAdjust="spacingAndGlyphs">Salinity</text>
<text x="167.2" y="42.2" font-size="26" stroke="#fff" stroke-width="0.5" textLength="65.8" lengthAdjust="spacingAndGlyphs">(ppt).</text>
<text x="243.9" y="42.2" font-size="26" stroke="#fff" stroke-width="0.5" textLength="51.5" lengthAdjust="spacingAndGlyphs">Date</text>
<text x="308.4" y="42.2" font-size="26" stroke="#fff" stroke-width="0.5" textLength="139.0" lengthAdjust="spacingAndGlyphs">2014.05.20.</text>
<text x="459.4" y="42.2" font-size="26" stroke="#fff" stroke-width="0.5" textLength="52.0" lengthAdjust="spacingAndGlyphs">Time</text>
<text x="525.9" y="42.2" font-size="26" stroke="#fff" stroke-width="0.5" textLength="140.5" lengthAdjust="spacingAndGlyphs">00(h):00(m)</text>
<text x="679.4" y="42.2" font-size="26" stroke="#fff" stroke-width="0.5" textLength="47.0" lengthAdjust="spacingAndGlyphs">GMT</text>
<text x="322.4" y="607.3" font-size="23.5" stroke="#fff" stroke-width="0.45" textLength="90.4" lengthAdjust="spacingAndGlyphs">Langitude</text>
<text x="423.4" y="607.3" font-size="23.5" stroke="#fff" stroke-width="0.45" textLength="54.4" lengthAdjust="spacingAndGlyphs">(East)</text>
<g transform="translate(83.3,382.5) rotate(-90)">
<text x="-1.5" y="0" font-size="22.5" stroke="#fff" stroke-width="0.45" textLength="81.5" lengthAdjust="spacingAndGlyphs">Latitude</text>
<text x="89.5" y="0" font-size="22.5" stroke="#fff" stroke-width="0.45" textLength="59.0" lengthAdjust="spacingAndGlyphs">(North)</text>
</g>
<g shape-rendering="crispEdges"><rect x="708" y="550.80" width="16" height="6.50" fill="#000086"/><rect x="708" y="544.60" width="16" height="6.50" fill="#000093"/><rect x="708" y="538.40" width="16" height="6.50" fill="#00009f"/><rect x="708" y="532.20" width="16" height="6.50" fill="#0000ac"/><rect x="708" y="526.00" width="16" height="6.50" fill="#0000b9"/><rect x="708" y="519.80" width="16" height="6.50" fill="#0000c6"/><rect x="708" y="513.60" width="16" height="6.50" fill="#0000d2"/><rect x="708" y="507.40" width="16" height="6.50" fill="#0000df"/><rect x="708" y="501.20" width="16" height="6.50" fill="#0000ec"/><rect x="708" y="495.00" width="16" height="6.50" fill="#0000f9"/><rect x="708" y="488.80" width="16" height="6.50" fill="#0006ff"/><rect x="708" y="482.60" width="16" height="6.50" fill="#0013ff"/><rect x="708" y="476.40" width="16" height="6.50" fill="#0020ff"/><rect x="708" y="470.20" width="16" height="6.50" fill="#002dff"/><rect x="708" y="464.00" width="16" height="6.50" fill="#0039ff"/><rect x="708" y="457.80" width="16" height="6.50" fill="#0046ff"/><rect x="708" y="451.60" width="16" height="6.50" fill="#0053ff"/><rect x="708" y="445.40" width="16" height="6.50" fill="#0060ff"/><rect x="708" y="439.20" width="16" height="6.50" fill="#006cff"/><rect x="708" y="433.00" width="16" height="6.50" fill="#0079ff"/><rect x="708" y="426.80" width="16" height="6.50" fill="#0086ff"/><rect x="708" y="420.60" width="16" height="6.50" fill="#0093ff"/><rect x="708" y="414.40" width="16" height="6.50" fill="#009fff"/><rect x="708" y="408.20" width="16" height="6.50" fill="#00acff"/><rect x="708" y="402.00" width="16" height="6.50" fill="#00b9ff"/><rect x="708" y="395.80" width="16" height="6.50" fill="#00c6ff"/><rect x="708" y="389.60" width="16" height="6.50" fill="#00d2ff"/><rect x="708" y="383.40" width="16" height="6.50" fill="#00dfff"/><rect x="708" y="377.20" width="16" height="6.50" fill="#00ecff"/><rect x="708" y="371.00" width="16" height="6.50" fill="#00f9ff"/><rect x="708" y="364.80" width="16" height="6.50" fill="#06fff9"/><rect x="708" y="358.60" width="16" height="6.50" fill="#13ffec"/><rect x="708" y="352.40" width="16" height="6.50" fill="#20ffdf"/><rect x="708" y="346.20" width="16" height="6.50" fill="#2dffd2"/><rect x="708" y="340.00" width="16" height="6.50" fill="#39ffc6"/><rect x="708" y="333.80" width="16" height="6.50" fill="#46ffb9"/><rect x="708" y="327.60" width="16" height="6.50" fill="#53ffac"/><rect x="708" y="321.40" width="16" height="6.50" fill="#60ff9f"/><rect x="708" y="315.20" width="16" height="6.50" fill="#6cff93"/><rect x="708" y="309.00" width="16" height="6.50" fill="#79ff86"/><rect x="708" y="302.80" width="16" height="6.50" fill="#86ff79"/><rect x="708" y="296.60" width="16" height="6.50" fill="#93ff6c"/><rect x="708" y="290.40" width="16" height="6.50" fill="#9fff60"/><rect x="708" y="284.20" width="16" height="6.50" fill="#acff53"/><rect x="708" y="278.00" width="16" height="6.50" fill="#b9ff46"/><rect x="708" y="271.80" width="16" height="6.50" fill="#c6ff39"/><rect x="708" y="265.60" width="16" height="6.50" fill="#d2ff2d"/><rect x="708" y="259.40" width="16" height="6.50" fill="#dfff20"/><rect x="708" y="253.20" width="16" height="6.50" fill="#ecff13"/><rect x="708" y="247.00" width="16" height="6.50" fill="#f9ff06"/><rect x="708" y="240.80" width="16" height="6.50" fill="#fff900"/><rect x="708" y="234.60" width="16" height="6.50" fill="#ffec00"/><rect x="708" y="228.40" width="16" height="6.50" fill="#ffdf00"/><rect x="708" y="222.20" width="16" height="6.50" fill="#ffd200"/><rect x="708" y="216.00" width="16" height="6.50" fill="#ffc600"/><rect x="708" y="209.80" width="16" height="6.50" fill="#ffb900"/><rect x="708" y="203.60" width="16" height="6.50" fill="#ffac00"/><rect x="708" y="197.40" width="16" height="6.50" fill="#ff9f00"/><rect x="708" y="191.20" width="16" height="6.50" fill="#ff9300"/><rect x="708" y="185.00" width="16" height="6.50" fill="#ff8600"/><rect x="708" y="178.80" width="16" height="6.50" fill="#ff7900"/><rect x="708" y="172.60" width="16" height="6.50" fill="#ff6c00"/><rect x="708" y="166.40" width="16" height="6.50" fill="#ff6000"/><rect x="708" y="160.20" width="16" height="6.50" fill="#ff5300"/><rect x="708" y="154.00" width="16" height="6.50" fill="#ff4600"/><rect x="708" y="147.80" width="16" height="6.50" fill="#ff3900"/><rect x="708" y="141.60" width="16" height="6.50" fill="#ff2d00"/><rect x="708" y="135.40" width="16" height="6.50" fill="#ff2000"/><rect x="708" y="129.20" width="16" height="6.50" fill="#ff1300"/><rect x="708" y="123.00" width="16" height="6.50" fill="#ff0600"/><rect x="708" y="116.80" width="16" height="6.50" fill="#f90000"/><rect x="708" y="110.60" width="16" height="6.50" fill="#ec0000"/><rect x="708" y="104.40" width="16" height="6.50" fill="#df0000"/><rect x="708" y="98.20" width="16" height="6.50" fill="#d20000"/><rect x="708" y="92.00" width="16" height="6.50" fill="#c60000"/><rect x="708" y="85.80" width="16" height="6.50" fill="#b90000"/><rect x="708" y="79.60" width="16" height="6.50" fill="#ac0000"/><rect x="708" y="73.40" width="16" height="6.50" fill="#9f0000"/><rect x="708" y="67.20" width="16" height="6.50" fill="#930000"/><rect x="708" y="61.00" width="16" height="6.50" fill="#860000"/></g>
<text x="735.6" y="73.8" font-size="13.4" textLength="28.6" lengthAdjust="spacingAndGlyphs">18.6</text>
<text x="735.6" y="190.0" font-size="13.4" textLength="28.6" lengthAdjust="spacingAndGlyphs">16.6</text>
<text x="735.6" y="311.5" font-size="13.4" textLength="28.6" lengthAdjust="spacingAndGlyphs">14.5</text>
<text x="735.6" y="433.0" font-size="13.4" textLength="28.6" lengthAdjust="spacingAndGlyphs">12.4</text>
<text x="735.6" y="555.6" font-size="13.4" textLength="28.6" lengthAdjust="spacingAndGlyphs">10.3</text>
</svg></body></html>
